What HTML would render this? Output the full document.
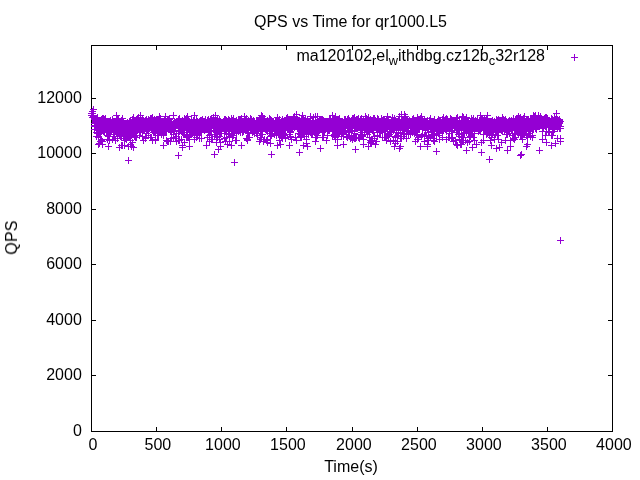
<!DOCTYPE html>
<html><head><meta charset="utf-8"><title>QPS vs Time for qr1000.L5</title>
<style>
html,body{margin:0;padding:0;background:#fff;width:640px;height:480px;overflow:hidden}
svg{display:block;position:absolute;left:0;top:0}
text{font-family:"Liberation Sans",sans-serif;font-size:16px;fill:#000}
#tx{opacity:0.999}
.sub{font-size:12.8px}
</style></head><body>
<svg width="640" height="480" viewBox="0 0 640 480">
<rect width="640" height="480" fill="#fff"/>
<g shape-rendering="crispEdges" fill="none" stroke="#000" stroke-width="1">
<path d="M91.5 45.5H612.5V431.5H91.5Z"/>
<path d="M91.5 431v-4M91.5 46v4M156.5 431v-4M156.5 46v4M221.5 431v-4M221.5 46v4M286.5 431v-4M286.5 46v4M352.5 431v-4M352.5 46v4M417.5 431v-4M417.5 46v4M482.5 431v-4M482.5 46v4M547.5 431v-4M547.5 46v4M612.5 431v-4M612.5 46v4M91 431.5h5M613 431.5h-5M91 375.5h5M613 375.5h-5M91 320.5h5M613 320.5h-5M91 264.5h5M613 264.5h-5M91 209.5h5M613 209.5h-5M91 153.5h5M613 153.5h-5M91 98.5h5M613 98.5h-5"/>
</g>
<g shape-rendering="crispEdges" fill="none" stroke="#9400d3" stroke-width="1">
<path d="M571 57.5h7M574.5 54v7"/>
<path d="M88 113.5h7M91.5 110v7M88 115.5h7M91.5 112v7M89 111.5h7M92.5 108v7M89 113.5h7M92.5 110v7M89 115.5h7M92.5 112v7M89 117.5h7M92.5 114v7M90 109.5h7M93.5 106v7M90 115.5h7M93.5 112v7M90 116.5h7M93.5 113v7M91 119.5h7M94.5 116v7M91 123.5h7M94.5 120v7M91 125.5h7M94.5 122v7M91 126.5h7M94.5 123v7M91 129.5h7M94.5 126v7M92 118.5h7M95.5 115v7M92 120.5h7M95.5 117v7M92 121.5h7M95.5 118v7M92 122.5h7M95.5 119v7M92 125.5h7M95.5 122v7M92 126.5h7M95.5 123v7M93 118.5h7M96.5 115v7M93 120.5h7M96.5 117v7M93 122.5h7M96.5 119v7M93 123.5h7M96.5 120v7M93 132.5h7M96.5 129v7M93 136.5h7M96.5 133v7M94 117.5h7M97.5 114v7M94 123.5h7M97.5 120v7M94 124.5h7M97.5 121v7M94 125.5h7M97.5 122v7M94 128.5h7M97.5 125v7M94 132.5h7M97.5 129v7M94 133.5h7M97.5 130v7M95 121.5h7M98.5 118v7M95 122.5h7M98.5 119v7M95 124.5h7M98.5 121v7M95 129.5h7M98.5 126v7M95 130.5h7M98.5 127v7M95 137.5h7M98.5 134v7M95 144.5h7M98.5 141v7M96 123.5h7M99.5 120v7M96 124.5h7M99.5 121v7M96 127.5h7M99.5 124v7M96 130.5h7M99.5 127v7M96 132.5h7M99.5 129v7M96 143.5h7M99.5 140v7M97 122.5h7M100.5 119v7M97 123.5h7M100.5 120v7M97 125.5h7M100.5 122v7M97 131.5h7M100.5 128v7M97 132.5h7M100.5 129v7M97 133.5h7M100.5 130v7M97 141.5h7M100.5 138v7M98 119.5h7M101.5 116v7M98 120.5h7M101.5 117v7M98 123.5h7M101.5 120v7M98 124.5h7M101.5 121v7M98 126.5h7M101.5 123v7M98 131.5h7M101.5 128v7M98 139.5h7M101.5 136v7M98 140.5h7M101.5 137v7M99 118.5h7M102.5 115v7M99 122.5h7M102.5 119v7M99 126.5h7M102.5 123v7M99 127.5h7M102.5 124v7M99 128.5h7M102.5 125v7M99 130.5h7M102.5 127v7M99 141.5h7M102.5 138v7M99 144.5h7M102.5 141v7M100 118.5h7M103.5 115v7M100 120.5h7M103.5 117v7M100 126.5h7M103.5 123v7M100 127.5h7M103.5 124v7M100 128.5h7M103.5 125v7M100 131.5h7M103.5 128v7M101 119.5h7M104.5 116v7M101 120.5h7M104.5 117v7M101 123.5h7M104.5 120v7M101 126.5h7M104.5 123v7M101 130.5h7M104.5 127v7M101 131.5h7M104.5 128v7M102 118.5h7M105.5 115v7M102 119.5h7M105.5 116v7M102 122.5h7M105.5 119v7M102 123.5h7M105.5 120v7M102 124.5h7M105.5 121v7M102 127.5h7M105.5 124v7M103 121.5h7M106.5 118v7M103 122.5h7M106.5 119v7M103 123.5h7M106.5 120v7M103 125.5h7M106.5 122v7M103 132.5h7M106.5 129v7M104 124.5h7M107.5 121v7M104 125.5h7M107.5 122v7M104 127.5h7M107.5 124v7M104 128.5h7M107.5 125v7M104 130.5h7M107.5 127v7M104 135.5h7M107.5 132v7M104 139.5h7M107.5 136v7M105 123.5h7M108.5 120v7M105 126.5h7M108.5 123v7M105 129.5h7M108.5 126v7M105 130.5h7M108.5 127v7M105 131.5h7M108.5 128v7M105 136.5h7M108.5 133v7M105 146.5h7M108.5 143v7M106 121.5h7M109.5 118v7M106 122.5h7M109.5 119v7M106 124.5h7M109.5 121v7M106 125.5h7M109.5 122v7M106 130.5h7M109.5 127v7M106 132.5h7M109.5 129v7M106 140.5h7M109.5 137v7M107 120.5h7M110.5 117v7M107 123.5h7M110.5 120v7M107 124.5h7M110.5 121v7M107 125.5h7M110.5 122v7M107 126.5h7M110.5 123v7M107 130.5h7M110.5 127v7M108 123.5h7M111.5 120v7M108 124.5h7M111.5 121v7M108 125.5h7M111.5 122v7M108 126.5h7M111.5 123v7M108 129.5h7M111.5 126v7M108 130.5h7M111.5 127v7M108 131.5h7M111.5 128v7M109 119.5h7M112.5 116v7M109 120.5h7M112.5 117v7M109 121.5h7M112.5 118v7M109 126.5h7M112.5 123v7M109 127.5h7M112.5 124v7M109 139.5h7M112.5 136v7M110 121.5h7M113.5 118v7M110 128.5h7M113.5 125v7M110 132.5h7M113.5 129v7M110 134.5h7M113.5 131v7M110 136.5h7M113.5 133v7M111 121.5h7M114.5 118v7M111 123.5h7M114.5 120v7M111 124.5h7M114.5 121v7M111 125.5h7M114.5 122v7M111 136.5h7M114.5 133v7M112 122.5h7M115.5 119v7M112 123.5h7M115.5 120v7M112 124.5h7M115.5 121v7M112 125.5h7M115.5 122v7M112 131.5h7M115.5 128v7M112 140.5h7M115.5 137v7M113 115.5h7M116.5 112v7M113 122.5h7M116.5 119v7M113 123.5h7M116.5 120v7M113 125.5h7M116.5 122v7M113 128.5h7M116.5 125v7M113 133.5h7M116.5 130v7M114 118.5h7M117.5 115v7M114 122.5h7M117.5 119v7M114 123.5h7M117.5 120v7M114 125.5h7M117.5 122v7M114 128.5h7M117.5 125v7M114 129.5h7M117.5 126v7M114 130.5h7M117.5 127v7M114 138.5h7M117.5 135v7M115 119.5h7M118.5 116v7M115 122.5h7M118.5 119v7M115 123.5h7M118.5 120v7M115 125.5h7M118.5 122v7M115 131.5h7M118.5 128v7M116 121.5h7M119.5 118v7M116 124.5h7M119.5 121v7M116 125.5h7M119.5 122v7M116 127.5h7M119.5 124v7M116 134.5h7M119.5 131v7M116 147.5h7M119.5 144v7M117 122.5h7M120.5 119v7M117 124.5h7M120.5 121v7M117 126.5h7M120.5 123v7M117 129.5h7M120.5 126v7M117 132.5h7M120.5 129v7M117 135.5h7M120.5 132v7M117 136.5h7M120.5 133v7M118 120.5h7M121.5 117v7M118 122.5h7M121.5 119v7M118 123.5h7M121.5 120v7M118 124.5h7M121.5 121v7M118 125.5h7M121.5 122v7M118 131.5h7M121.5 128v7M118 136.5h7M121.5 133v7M118 145.5h7M121.5 142v7M119 118.5h7M122.5 115v7M119 122.5h7M122.5 119v7M119 125.5h7M122.5 122v7M119 127.5h7M122.5 124v7M119 130.5h7M122.5 127v7M119 133.5h7M122.5 130v7M119 145.5h7M122.5 142v7M120 122.5h7M123.5 119v7M120 123.5h7M123.5 120v7M120 124.5h7M123.5 121v7M120 125.5h7M123.5 122v7M120 128.5h7M123.5 125v7M120 131.5h7M123.5 128v7M121 123.5h7M124.5 120v7M121 125.5h7M124.5 122v7M121 130.5h7M124.5 127v7M121 132.5h7M124.5 129v7M121 140.5h7M124.5 137v7M121 145.5h7M124.5 142v7M122 123.5h7M125.5 120v7M122 124.5h7M125.5 121v7M122 125.5h7M125.5 122v7M122 131.5h7M125.5 128v7M122 132.5h7M125.5 129v7M122 138.5h7M125.5 135v7M123 123.5h7M126.5 120v7M123 126.5h7M126.5 123v7M123 128.5h7M126.5 125v7M123 131.5h7M126.5 128v7M123 137.5h7M126.5 134v7M123 138.5h7M126.5 135v7M123 139.5h7M126.5 136v7M124 122.5h7M127.5 119v7M124 123.5h7M127.5 120v7M124 126.5h7M127.5 123v7M124 128.5h7M127.5 125v7M124 131.5h7M127.5 128v7M124 133.5h7M127.5 130v7M125 123.5h7M128.5 120v7M125 124.5h7M128.5 121v7M125 125.5h7M128.5 122v7M125 126.5h7M128.5 123v7M125 134.5h7M128.5 131v7M125 146.5h7M128.5 143v7M125 160.5h7M128.5 157v7M126 121.5h7M129.5 118v7M126 122.5h7M129.5 119v7M126 125.5h7M129.5 122v7M126 126.5h7M129.5 123v7M126 130.5h7M129.5 127v7M126 132.5h7M129.5 129v7M126 135.5h7M129.5 132v7M127 120.5h7M130.5 117v7M127 127.5h7M130.5 124v7M127 130.5h7M130.5 127v7M127 134.5h7M130.5 131v7M127 135.5h7M130.5 132v7M127 140.5h7M130.5 137v7M127 144.5h7M130.5 141v7M128 123.5h7M131.5 120v7M128 124.5h7M131.5 121v7M128 125.5h7M131.5 122v7M128 126.5h7M131.5 123v7M128 131.5h7M131.5 128v7M128 135.5h7M131.5 132v7M128 146.5h7M131.5 143v7M129 119.5h7M132.5 116v7M129 123.5h7M132.5 120v7M129 124.5h7M132.5 121v7M129 126.5h7M132.5 123v7M129 127.5h7M132.5 124v7M129 132.5h7M132.5 129v7M129 134.5h7M132.5 131v7M129 142.5h7M132.5 139v7M130 117.5h7M133.5 114v7M130 121.5h7M133.5 118v7M130 125.5h7M133.5 122v7M130 126.5h7M133.5 123v7M130 127.5h7M133.5 124v7M130 131.5h7M133.5 128v7M130 147.5h7M133.5 144v7M131 123.5h7M134.5 120v7M131 124.5h7M134.5 121v7M131 125.5h7M134.5 122v7M131 127.5h7M134.5 124v7M131 130.5h7M134.5 127v7M131 136.5h7M134.5 133v7M132 121.5h7M135.5 118v7M132 123.5h7M135.5 120v7M132 124.5h7M135.5 121v7M132 126.5h7M135.5 123v7M132 130.5h7M135.5 127v7M132 137.5h7M135.5 134v7M133 119.5h7M136.5 116v7M133 122.5h7M136.5 119v7M133 124.5h7M136.5 121v7M133 126.5h7M136.5 123v7M133 128.5h7M136.5 125v7M133 131.5h7M136.5 128v7M133 137.5h7M136.5 134v7M134 118.5h7M137.5 115v7M134 121.5h7M137.5 118v7M134 122.5h7M137.5 119v7M134 123.5h7M137.5 120v7M134 125.5h7M137.5 122v7M134 128.5h7M137.5 125v7M134 130.5h7M137.5 127v7M135 117.5h7M138.5 114v7M135 121.5h7M138.5 118v7M135 122.5h7M138.5 119v7M135 125.5h7M138.5 122v7M135 128.5h7M138.5 125v7M135 129.5h7M138.5 126v7M136 122.5h7M139.5 119v7M136 123.5h7M139.5 120v7M136 124.5h7M139.5 121v7M136 131.5h7M139.5 128v7M136 132.5h7M139.5 129v7M136 135.5h7M139.5 132v7M137 115.5h7M140.5 112v7M137 118.5h7M140.5 115v7M137 125.5h7M140.5 122v7M137 126.5h7M140.5 123v7M137 128.5h7M140.5 125v7M137 132.5h7M140.5 129v7M138 123.5h7M141.5 120v7M138 124.5h7M141.5 121v7M138 125.5h7M141.5 122v7M138 126.5h7M141.5 123v7M138 127.5h7M141.5 124v7M138 129.5h7M141.5 126v7M139 118.5h7M142.5 115v7M139 119.5h7M142.5 116v7M139 123.5h7M142.5 120v7M139 124.5h7M142.5 121v7M139 125.5h7M142.5 122v7M139 127.5h7M142.5 124v7M139 128.5h7M142.5 125v7M139 136.5h7M142.5 133v7M140 120.5h7M143.5 117v7M140 123.5h7M143.5 120v7M140 125.5h7M143.5 122v7M140 127.5h7M143.5 124v7M140 140.5h7M143.5 137v7M141 123.5h7M144.5 120v7M141 124.5h7M144.5 121v7M141 130.5h7M144.5 127v7M142 120.5h7M145.5 117v7M142 123.5h7M145.5 120v7M142 124.5h7M145.5 121v7M142 125.5h7M145.5 122v7M142 126.5h7M145.5 123v7M142 127.5h7M145.5 124v7M142 137.5h7M145.5 134v7M142 138.5h7M145.5 135v7M143 119.5h7M146.5 116v7M143 123.5h7M146.5 120v7M143 124.5h7M146.5 121v7M143 125.5h7M146.5 122v7M143 126.5h7M146.5 123v7M143 131.5h7M146.5 128v7M143 133.5h7M146.5 130v7M144 121.5h7M147.5 118v7M144 123.5h7M147.5 120v7M144 125.5h7M147.5 122v7M144 126.5h7M147.5 123v7M144 128.5h7M147.5 125v7M144 130.5h7M147.5 127v7M145 119.5h7M148.5 116v7M145 121.5h7M148.5 118v7M145 124.5h7M148.5 121v7M145 125.5h7M148.5 122v7M145 126.5h7M148.5 123v7M145 135.5h7M148.5 132v7M146 122.5h7M149.5 119v7M146 123.5h7M149.5 120v7M146 124.5h7M149.5 121v7M146 125.5h7M149.5 122v7M146 126.5h7M149.5 123v7M147 118.5h7M150.5 115v7M147 120.5h7M150.5 117v7M147 123.5h7M150.5 120v7M147 124.5h7M150.5 121v7M147 127.5h7M150.5 124v7M147 137.5h7M150.5 134v7M148 118.5h7M151.5 115v7M148 120.5h7M151.5 117v7M148 121.5h7M151.5 118v7M148 122.5h7M151.5 119v7M148 128.5h7M151.5 125v7M148 137.5h7M151.5 134v7M149 117.5h7M152.5 114v7M149 118.5h7M152.5 115v7M149 119.5h7M152.5 116v7M149 123.5h7M152.5 120v7M149 124.5h7M152.5 121v7M149 127.5h7M152.5 124v7M149 129.5h7M152.5 126v7M149 140.5h7M152.5 137v7M150 122.5h7M153.5 119v7M150 124.5h7M153.5 121v7M150 125.5h7M153.5 122v7M150 128.5h7M153.5 125v7M150 129.5h7M153.5 126v7M150 132.5h7M153.5 129v7M151 119.5h7M154.5 116v7M151 120.5h7M154.5 117v7M151 123.5h7M154.5 120v7M151 124.5h7M154.5 121v7M151 126.5h7M154.5 123v7M151 131.5h7M154.5 128v7M151 132.5h7M154.5 129v7M152 121.5h7M155.5 118v7M152 127.5h7M155.5 124v7M152 128.5h7M155.5 125v7M152 131.5h7M155.5 128v7M152 133.5h7M155.5 130v7M152 139.5h7M155.5 136v7M152 140.5h7M155.5 137v7M153 120.5h7M156.5 117v7M153 121.5h7M156.5 118v7M153 122.5h7M156.5 119v7M153 123.5h7M156.5 120v7M153 125.5h7M156.5 122v7M153 128.5h7M156.5 125v7M154 120.5h7M157.5 117v7M154 122.5h7M157.5 119v7M154 123.5h7M157.5 120v7M154 124.5h7M157.5 121v7M154 130.5h7M157.5 127v7M154 133.5h7M157.5 130v7M154 135.5h7M157.5 132v7M155 120.5h7M158.5 117v7M155 123.5h7M158.5 120v7M155 124.5h7M158.5 121v7M155 125.5h7M158.5 122v7M155 126.5h7M158.5 123v7M155 132.5h7M158.5 129v7M155 135.5h7M158.5 132v7M156 116.5h7M159.5 113v7M156 120.5h7M159.5 117v7M156 121.5h7M159.5 118v7M156 124.5h7M159.5 121v7M157 118.5h7M160.5 115v7M157 120.5h7M160.5 117v7M157 121.5h7M160.5 118v7M157 125.5h7M160.5 122v7M157 127.5h7M160.5 124v7M158 121.5h7M161.5 118v7M158 122.5h7M161.5 119v7M158 123.5h7M161.5 120v7M158 124.5h7M161.5 121v7M158 125.5h7M161.5 122v7M158 130.5h7M161.5 127v7M158 134.5h7M161.5 131v7M159 124.5h7M162.5 121v7M159 127.5h7M162.5 124v7M159 128.5h7M162.5 125v7M159 129.5h7M162.5 126v7M159 130.5h7M162.5 127v7M159 131.5h7M162.5 128v7M160 125.5h7M163.5 122v7M160 126.5h7M163.5 123v7M160 132.5h7M163.5 129v7M160 133.5h7M163.5 130v7M160 134.5h7M163.5 131v7M160 135.5h7M163.5 132v7M160 145.5h7M163.5 142v7M161 119.5h7M164.5 116v7M161 122.5h7M164.5 119v7M161 123.5h7M164.5 120v7M161 126.5h7M164.5 123v7M161 127.5h7M164.5 124v7M162 116.5h7M165.5 113v7M162 122.5h7M165.5 119v7M162 123.5h7M165.5 120v7M162 124.5h7M165.5 121v7M162 127.5h7M165.5 124v7M162 129.5h7M165.5 126v7M163 121.5h7M166.5 118v7M163 122.5h7M166.5 119v7M163 124.5h7M166.5 121v7M163 125.5h7M166.5 122v7M163 126.5h7M166.5 123v7M163 128.5h7M166.5 125v7M163 140.5h7M166.5 137v7M164 120.5h7M167.5 117v7M164 122.5h7M167.5 119v7M164 124.5h7M167.5 121v7M164 125.5h7M167.5 122v7M164 127.5h7M167.5 124v7M164 141.5h7M167.5 138v7M165 119.5h7M168.5 116v7M165 122.5h7M168.5 119v7M165 124.5h7M168.5 121v7M165 125.5h7M168.5 122v7M165 129.5h7M168.5 126v7M165 141.5h7M168.5 138v7M166 118.5h7M169.5 115v7M166 119.5h7M169.5 116v7M166 121.5h7M169.5 118v7M166 122.5h7M169.5 119v7M166 125.5h7M169.5 122v7M166 128.5h7M169.5 125v7M166 129.5h7M169.5 126v7M167 123.5h7M170.5 120v7M167 124.5h7M170.5 121v7M167 127.5h7M170.5 124v7M167 128.5h7M170.5 125v7M167 130.5h7M170.5 127v7M167 131.5h7M170.5 128v7M167 141.5h7M170.5 138v7M168 121.5h7M171.5 118v7M168 122.5h7M171.5 119v7M168 123.5h7M171.5 120v7M168 124.5h7M171.5 121v7M168 125.5h7M171.5 122v7M168 126.5h7M171.5 123v7M168 130.5h7M171.5 127v7M168 138.5h7M171.5 135v7M169 124.5h7M172.5 121v7M169 125.5h7M172.5 122v7M169 126.5h7M172.5 123v7M169 129.5h7M172.5 126v7M170 115.5h7M173.5 112v7M170 123.5h7M173.5 120v7M170 125.5h7M173.5 122v7M170 131.5h7M173.5 128v7M170 134.5h7M173.5 131v7M170 137.5h7M173.5 134v7M171 121.5h7M174.5 118v7M171 123.5h7M174.5 120v7M171 124.5h7M174.5 121v7M171 125.5h7M174.5 122v7M171 126.5h7M174.5 123v7M171 131.5h7M174.5 128v7M172 122.5h7M175.5 119v7M172 123.5h7M175.5 120v7M172 125.5h7M175.5 122v7M172 127.5h7M175.5 124v7M172 138.5h7M175.5 135v7M173 121.5h7M176.5 118v7M173 123.5h7M176.5 120v7M173 125.5h7M176.5 122v7M173 133.5h7M176.5 130v7M173 136.5h7M176.5 133v7M173 141.5h7M176.5 138v7M174 121.5h7M177.5 118v7M174 122.5h7M177.5 119v7M174 124.5h7M177.5 121v7M174 125.5h7M177.5 122v7M175 119.5h7M178.5 116v7M175 124.5h7M178.5 121v7M175 126.5h7M178.5 123v7M175 133.5h7M178.5 130v7M175 140.5h7M178.5 137v7M175 155.5h7M178.5 152v7M176 118.5h7M179.5 115v7M176 122.5h7M179.5 119v7M176 123.5h7M179.5 120v7M176 126.5h7M179.5 123v7M176 127.5h7M179.5 124v7M176 131.5h7M179.5 128v7M176 140.5h7M179.5 137v7M177 121.5h7M180.5 118v7M177 122.5h7M180.5 119v7M177 123.5h7M180.5 120v7M177 124.5h7M180.5 121v7M177 125.5h7M180.5 122v7M177 127.5h7M180.5 124v7M177 130.5h7M180.5 127v7M178 121.5h7M181.5 118v7M178 123.5h7M181.5 120v7M178 124.5h7M181.5 121v7M178 126.5h7M181.5 123v7M178 139.5h7M181.5 136v7M179 120.5h7M182.5 117v7M179 121.5h7M182.5 118v7M179 124.5h7M182.5 121v7M179 125.5h7M182.5 122v7M179 130.5h7M182.5 127v7M179 132.5h7M182.5 129v7M179 145.5h7M182.5 142v7M179 147.5h7M182.5 144v7M180 121.5h7M183.5 118v7M180 122.5h7M183.5 119v7M180 123.5h7M183.5 120v7M180 125.5h7M183.5 122v7M180 126.5h7M183.5 123v7M180 130.5h7M183.5 127v7M181 118.5h7M184.5 115v7M181 121.5h7M184.5 118v7M181 127.5h7M184.5 124v7M181 128.5h7M184.5 125v7M181 134.5h7M184.5 131v7M181 142.5h7M184.5 139v7M182 119.5h7M185.5 116v7M182 121.5h7M185.5 118v7M182 122.5h7M185.5 119v7M182 123.5h7M185.5 120v7M182 124.5h7M185.5 121v7M182 126.5h7M185.5 123v7M183 118.5h7M186.5 115v7M183 122.5h7M186.5 119v7M183 123.5h7M186.5 120v7M183 124.5h7M186.5 121v7M183 129.5h7M186.5 126v7M183 135.5h7M186.5 132v7M183 136.5h7M186.5 133v7M183 137.5h7M186.5 134v7M184 116.5h7M187.5 113v7M184 120.5h7M187.5 117v7M184 121.5h7M187.5 118v7M184 122.5h7M187.5 119v7M184 130.5h7M187.5 127v7M184 137.5h7M187.5 134v7M185 120.5h7M188.5 117v7M185 121.5h7M188.5 118v7M185 124.5h7M188.5 121v7M185 125.5h7M188.5 122v7M185 137.5h7M188.5 134v7M186 122.5h7M189.5 119v7M186 124.5h7M189.5 121v7M186 125.5h7M189.5 122v7M186 127.5h7M189.5 124v7M186 136.5h7M189.5 133v7M186 139.5h7M189.5 136v7M186 146.5h7M189.5 143v7M187 123.5h7M190.5 120v7M187 124.5h7M190.5 121v7M187 125.5h7M190.5 122v7M187 127.5h7M190.5 124v7M187 130.5h7M190.5 127v7M187 131.5h7M190.5 128v7M187 132.5h7M190.5 129v7M188 119.5h7M191.5 116v7M188 123.5h7M191.5 120v7M188 124.5h7M191.5 121v7M188 125.5h7M191.5 122v7M188 126.5h7M191.5 123v7M188 127.5h7M191.5 124v7M188 130.5h7M191.5 127v7M189 122.5h7M192.5 119v7M189 123.5h7M192.5 120v7M189 126.5h7M192.5 123v7M189 127.5h7M192.5 124v7M189 131.5h7M192.5 128v7M190 120.5h7M193.5 117v7M190 121.5h7M193.5 118v7M190 122.5h7M193.5 119v7M190 125.5h7M193.5 122v7M190 126.5h7M193.5 123v7M190 128.5h7M193.5 125v7M190 131.5h7M193.5 128v7M191 115.5h7M194.5 112v7M191 122.5h7M194.5 119v7M191 124.5h7M194.5 121v7M191 130.5h7M194.5 127v7M191 132.5h7M194.5 129v7M191 134.5h7M194.5 131v7M191 135.5h7M194.5 132v7M191 139.5h7M194.5 136v7M192 122.5h7M195.5 119v7M192 123.5h7M195.5 120v7M192 124.5h7M195.5 121v7M192 125.5h7M195.5 122v7M192 127.5h7M195.5 124v7M192 132.5h7M195.5 129v7M193 119.5h7M196.5 116v7M193 121.5h7M196.5 118v7M193 123.5h7M196.5 120v7M193 125.5h7M196.5 122v7M193 132.5h7M196.5 129v7M193 137.5h7M196.5 134v7M194 121.5h7M197.5 118v7M194 122.5h7M197.5 119v7M194 123.5h7M197.5 120v7M194 124.5h7M197.5 121v7M194 125.5h7M197.5 122v7M194 127.5h7M197.5 124v7M194 135.5h7M197.5 132v7M195 122.5h7M198.5 119v7M195 124.5h7M198.5 121v7M195 130.5h7M198.5 127v7M195 131.5h7M198.5 128v7M196 121.5h7M199.5 118v7M196 124.5h7M199.5 121v7M196 126.5h7M199.5 123v7M196 130.5h7M199.5 127v7M196 132.5h7M199.5 129v7M196 138.5h7M199.5 135v7M197 120.5h7M200.5 117v7M197 121.5h7M200.5 118v7M197 122.5h7M200.5 119v7M197 123.5h7M200.5 120v7M197 128.5h7M200.5 125v7M197 131.5h7M200.5 128v7M198 120.5h7M201.5 117v7M198 122.5h7M201.5 119v7M198 124.5h7M201.5 121v7M198 125.5h7M201.5 122v7M198 126.5h7M201.5 123v7M198 132.5h7M201.5 129v7M198 138.5h7M201.5 135v7M199 119.5h7M202.5 116v7M199 120.5h7M202.5 117v7M199 123.5h7M202.5 120v7M199 124.5h7M202.5 121v7M199 125.5h7M202.5 122v7M199 127.5h7M202.5 124v7M200 121.5h7M203.5 118v7M200 123.5h7M203.5 120v7M200 124.5h7M203.5 121v7M200 125.5h7M203.5 122v7M200 126.5h7M203.5 123v7M201 121.5h7M204.5 118v7M201 123.5h7M204.5 120v7M201 124.5h7M204.5 121v7M201 125.5h7M204.5 122v7M201 126.5h7M204.5 123v7M201 127.5h7M204.5 124v7M201 130.5h7M204.5 127v7M202 119.5h7M205.5 116v7M202 122.5h7M205.5 119v7M202 123.5h7M205.5 120v7M202 124.5h7M205.5 121v7M202 125.5h7M205.5 122v7M202 126.5h7M205.5 123v7M203 122.5h7M206.5 119v7M203 124.5h7M206.5 121v7M203 125.5h7M206.5 122v7M203 127.5h7M206.5 124v7M203 145.5h7M206.5 142v7M204 120.5h7M207.5 117v7M204 121.5h7M207.5 118v7M204 123.5h7M207.5 120v7M204 125.5h7M207.5 122v7M204 126.5h7M207.5 123v7M204 137.5h7M207.5 134v7M205 119.5h7M208.5 116v7M205 120.5h7M208.5 117v7M205 121.5h7M208.5 118v7M205 125.5h7M208.5 122v7M205 127.5h7M208.5 124v7M205 131.5h7M208.5 128v7M205 132.5h7M208.5 129v7M206 122.5h7M209.5 119v7M206 123.5h7M209.5 120v7M206 124.5h7M209.5 121v7M206 127.5h7M209.5 124v7M206 135.5h7M209.5 132v7M206 137.5h7M209.5 134v7M206 141.5h7M209.5 138v7M207 119.5h7M210.5 116v7M207 120.5h7M210.5 117v7M207 121.5h7M210.5 118v7M207 123.5h7M210.5 120v7M207 124.5h7M210.5 121v7M207 128.5h7M210.5 125v7M207 131.5h7M210.5 128v7M208 118.5h7M211.5 115v7M208 120.5h7M211.5 117v7M208 123.5h7M211.5 120v7M208 125.5h7M211.5 122v7M208 126.5h7M211.5 123v7M208 131.5h7M211.5 128v7M208 139.5h7M211.5 136v7M209 122.5h7M212.5 119v7M209 123.5h7M212.5 120v7M209 124.5h7M212.5 121v7M209 125.5h7M212.5 122v7M209 139.5h7M212.5 136v7M210 117.5h7M213.5 114v7M210 121.5h7M213.5 118v7M210 122.5h7M213.5 119v7M210 123.5h7M213.5 120v7M210 125.5h7M213.5 122v7M210 126.5h7M213.5 123v7M210 127.5h7M213.5 124v7M211 121.5h7M214.5 118v7M211 124.5h7M214.5 121v7M211 125.5h7M214.5 122v7M211 127.5h7M214.5 124v7M211 136.5h7M214.5 133v7M211 154.5h7M214.5 151v7M212 115.5h7M215.5 112v7M212 122.5h7M215.5 119v7M212 123.5h7M215.5 120v7M212 126.5h7M215.5 123v7M212 128.5h7M215.5 125v7M212 130.5h7M215.5 127v7M212 134.5h7M215.5 131v7M213 120.5h7M216.5 117v7M213 123.5h7M216.5 120v7M213 124.5h7M216.5 121v7M213 125.5h7M216.5 122v7M213 131.5h7M216.5 128v7M213 132.5h7M216.5 129v7M213 136.5h7M216.5 133v7M213 142.5h7M216.5 139v7M214 118.5h7M217.5 115v7M214 121.5h7M217.5 118v7M214 123.5h7M217.5 120v7M214 127.5h7M217.5 124v7M214 130.5h7M217.5 127v7M214 132.5h7M217.5 129v7M214 137.5h7M217.5 134v7M215 122.5h7M218.5 119v7M215 123.5h7M218.5 120v7M215 125.5h7M218.5 122v7M215 126.5h7M218.5 123v7M215 128.5h7M218.5 125v7M215 129.5h7M218.5 126v7M215 149.5h7M218.5 146v7M216 119.5h7M219.5 116v7M216 126.5h7M219.5 123v7M216 127.5h7M219.5 124v7M216 129.5h7M219.5 126v7M216 130.5h7M219.5 127v7M216 131.5h7M219.5 128v7M216 136.5h7M219.5 133v7M216 139.5h7M219.5 136v7M217 123.5h7M220.5 120v7M217 126.5h7M220.5 123v7M217 127.5h7M220.5 124v7M217 133.5h7M220.5 130v7M217 142.5h7M220.5 139v7M217 146.5h7M220.5 143v7M218 123.5h7M221.5 120v7M218 124.5h7M221.5 121v7M218 125.5h7M221.5 122v7M218 126.5h7M221.5 123v7M218 128.5h7M221.5 125v7M218 129.5h7M221.5 126v7M218 133.5h7M221.5 130v7M219 123.5h7M222.5 120v7M219 124.5h7M222.5 121v7M219 125.5h7M222.5 122v7M219 127.5h7M222.5 124v7M219 128.5h7M222.5 125v7M220 121.5h7M223.5 118v7M220 122.5h7M223.5 119v7M220 123.5h7M223.5 120v7M220 124.5h7M223.5 121v7M220 126.5h7M223.5 123v7M221 119.5h7M224.5 116v7M221 120.5h7M224.5 117v7M221 123.5h7M224.5 120v7M221 126.5h7M224.5 123v7M221 133.5h7M224.5 130v7M221 138.5h7M224.5 135v7M222 119.5h7M225.5 116v7M222 121.5h7M225.5 118v7M222 124.5h7M225.5 121v7M222 125.5h7M225.5 122v7M222 126.5h7M225.5 123v7M222 130.5h7M225.5 127v7M222 141.5h7M225.5 138v7M223 120.5h7M226.5 117v7M223 123.5h7M226.5 120v7M223 124.5h7M226.5 121v7M223 129.5h7M226.5 126v7M223 130.5h7M226.5 127v7M223 131.5h7M226.5 128v7M223 137.5h7M226.5 134v7M224 121.5h7M227.5 118v7M224 123.5h7M227.5 120v7M224 125.5h7M227.5 122v7M224 126.5h7M227.5 123v7M224 127.5h7M227.5 124v7M224 144.5h7M227.5 141v7M225 119.5h7M228.5 116v7M225 121.5h7M228.5 118v7M225 123.5h7M228.5 120v7M225 124.5h7M228.5 121v7M225 125.5h7M228.5 122v7M225 130.5h7M228.5 127v7M225 134.5h7M228.5 131v7M226 120.5h7M229.5 117v7M226 122.5h7M229.5 119v7M226 123.5h7M229.5 120v7M226 125.5h7M229.5 122v7M226 126.5h7M229.5 123v7M226 133.5h7M229.5 130v7M226 136.5h7M229.5 133v7M226 141.5h7M229.5 138v7M227 121.5h7M230.5 118v7M227 122.5h7M230.5 119v7M227 124.5h7M230.5 121v7M227 126.5h7M230.5 123v7M228 118.5h7M231.5 115v7M228 123.5h7M231.5 120v7M228 125.5h7M231.5 122v7M228 128.5h7M231.5 125v7M228 131.5h7M231.5 128v7M228 145.5h7M231.5 142v7M229 120.5h7M232.5 117v7M229 123.5h7M232.5 120v7M229 124.5h7M232.5 121v7M229 127.5h7M232.5 124v7M229 128.5h7M232.5 125v7M229 129.5h7M232.5 126v7M229 137.5h7M232.5 134v7M230 118.5h7M233.5 115v7M230 122.5h7M233.5 119v7M230 123.5h7M233.5 120v7M230 125.5h7M233.5 122v7M230 126.5h7M233.5 123v7M230 130.5h7M233.5 127v7M230 135.5h7M233.5 132v7M231 121.5h7M234.5 118v7M231 123.5h7M234.5 120v7M231 125.5h7M234.5 122v7M231 126.5h7M234.5 123v7M231 131.5h7M234.5 128v7M231 162.5h7M234.5 159v7M232 121.5h7M235.5 118v7M232 122.5h7M235.5 119v7M232 124.5h7M235.5 121v7M232 126.5h7M235.5 123v7M232 130.5h7M235.5 127v7M232 140.5h7M235.5 137v7M233 120.5h7M236.5 117v7M233 122.5h7M236.5 119v7M233 124.5h7M236.5 121v7M233 126.5h7M236.5 123v7M233 133.5h7M236.5 130v7M233 140.5h7M236.5 137v7M234 123.5h7M237.5 120v7M234 124.5h7M237.5 121v7M234 125.5h7M237.5 122v7M234 128.5h7M237.5 125v7M234 130.5h7M237.5 127v7M235 119.5h7M238.5 116v7M235 121.5h7M238.5 118v7M235 122.5h7M238.5 119v7M235 123.5h7M238.5 120v7M235 124.5h7M238.5 121v7M235 125.5h7M238.5 122v7M235 130.5h7M238.5 127v7M235 131.5h7M238.5 128v7M236 119.5h7M239.5 116v7M236 120.5h7M239.5 117v7M236 123.5h7M239.5 120v7M236 124.5h7M239.5 121v7M236 126.5h7M239.5 123v7M237 119.5h7M240.5 116v7M237 120.5h7M240.5 117v7M237 122.5h7M240.5 119v7M237 124.5h7M240.5 121v7M237 125.5h7M240.5 122v7M237 126.5h7M240.5 123v7M237 132.5h7M240.5 129v7M238 118.5h7M241.5 115v7M238 121.5h7M241.5 118v7M238 122.5h7M241.5 119v7M238 125.5h7M241.5 122v7M238 127.5h7M241.5 124v7M238 145.5h7M241.5 142v7M239 121.5h7M242.5 118v7M239 123.5h7M242.5 120v7M239 124.5h7M242.5 121v7M239 125.5h7M242.5 122v7M239 130.5h7M242.5 127v7M239 132.5h7M242.5 129v7M240 122.5h7M243.5 119v7M240 124.5h7M243.5 121v7M240 125.5h7M243.5 122v7M240 127.5h7M243.5 124v7M240 129.5h7M243.5 126v7M240 130.5h7M243.5 127v7M240 131.5h7M243.5 128v7M241 116.5h7M244.5 113v7M241 119.5h7M244.5 116v7M241 121.5h7M244.5 118v7M241 122.5h7M244.5 119v7M241 125.5h7M244.5 122v7M241 126.5h7M244.5 123v7M241 127.5h7M244.5 124v7M242 119.5h7M245.5 116v7M242 122.5h7M245.5 119v7M242 123.5h7M245.5 120v7M242 125.5h7M245.5 122v7M242 129.5h7M245.5 126v7M242 130.5h7M245.5 127v7M243 118.5h7M246.5 115v7M243 120.5h7M246.5 117v7M243 123.5h7M246.5 120v7M243 124.5h7M246.5 121v7M243 127.5h7M246.5 124v7M243 138.5h7M246.5 135v7M244 124.5h7M247.5 121v7M244 126.5h7M247.5 123v7M244 130.5h7M247.5 127v7M244 132.5h7M247.5 129v7M244 139.5h7M247.5 136v7M244 140.5h7M247.5 137v7M245 120.5h7M248.5 117v7M245 121.5h7M248.5 118v7M245 123.5h7M248.5 120v7M245 126.5h7M248.5 123v7M245 128.5h7M248.5 125v7M245 133.5h7M248.5 130v7M246 121.5h7M249.5 118v7M246 123.5h7M249.5 120v7M246 124.5h7M249.5 121v7M246 125.5h7M249.5 122v7M246 126.5h7M249.5 123v7M246 137.5h7M249.5 134v7M247 118.5h7M250.5 115v7M247 119.5h7M250.5 116v7M247 121.5h7M250.5 118v7M247 123.5h7M250.5 120v7M247 124.5h7M250.5 121v7M247 129.5h7M250.5 126v7M248 119.5h7M251.5 116v7M248 120.5h7M251.5 117v7M248 123.5h7M251.5 120v7M248 124.5h7M251.5 121v7M248 125.5h7M251.5 122v7M248 128.5h7M251.5 125v7M248 130.5h7M251.5 127v7M249 123.5h7M252.5 120v7M249 124.5h7M252.5 121v7M249 125.5h7M252.5 122v7M249 129.5h7M252.5 126v7M249 130.5h7M252.5 127v7M249 132.5h7M252.5 129v7M250 120.5h7M253.5 117v7M250 123.5h7M253.5 120v7M250 124.5h7M253.5 121v7M250 125.5h7M253.5 122v7M250 126.5h7M253.5 123v7M250 131.5h7M253.5 128v7M251 121.5h7M254.5 118v7M251 123.5h7M254.5 120v7M251 124.5h7M254.5 121v7M251 125.5h7M254.5 122v7M251 128.5h7M254.5 125v7M251 130.5h7M254.5 127v7M251 133.5h7M254.5 130v7M252 123.5h7M255.5 120v7M252 124.5h7M255.5 121v7M252 125.5h7M255.5 122v7M252 126.5h7M255.5 123v7M253 120.5h7M256.5 117v7M253 121.5h7M256.5 118v7M253 124.5h7M256.5 121v7M253 125.5h7M256.5 122v7M253 128.5h7M256.5 125v7M253 133.5h7M256.5 130v7M254 120.5h7M257.5 117v7M254 123.5h7M257.5 120v7M254 124.5h7M257.5 121v7M254 125.5h7M257.5 122v7M254 131.5h7M257.5 128v7M254 133.5h7M257.5 130v7M254 135.5h7M257.5 132v7M255 120.5h7M258.5 117v7M255 121.5h7M258.5 118v7M255 122.5h7M258.5 119v7M255 123.5h7M258.5 120v7M255 126.5h7M258.5 123v7M255 130.5h7M258.5 127v7M256 120.5h7M259.5 117v7M256 122.5h7M259.5 119v7M256 124.5h7M259.5 121v7M256 127.5h7M259.5 124v7M256 141.5h7M259.5 138v7M257 120.5h7M260.5 117v7M257 122.5h7M260.5 119v7M257 123.5h7M260.5 120v7M257 124.5h7M260.5 121v7M257 129.5h7M260.5 126v7M257 130.5h7M260.5 127v7M257 139.5h7M260.5 136v7M258 115.5h7M261.5 112v7M258 121.5h7M261.5 118v7M258 123.5h7M261.5 120v7M258 126.5h7M261.5 123v7M258 131.5h7M261.5 128v7M258 137.5h7M261.5 134v7M259 116.5h7M262.5 113v7M259 121.5h7M262.5 118v7M259 123.5h7M262.5 120v7M259 125.5h7M262.5 122v7M259 126.5h7M262.5 123v7M259 134.5h7M262.5 131v7M260 118.5h7M263.5 115v7M260 120.5h7M263.5 117v7M260 122.5h7M263.5 119v7M260 123.5h7M263.5 120v7M260 125.5h7M263.5 122v7M260 126.5h7M263.5 123v7M260 128.5h7M263.5 125v7M260 141.5h7M263.5 138v7M261 119.5h7M264.5 116v7M261 121.5h7M264.5 118v7M261 123.5h7M264.5 120v7M261 125.5h7M264.5 122v7M261 127.5h7M264.5 124v7M261 128.5h7M264.5 125v7M261 139.5h7M264.5 136v7M262 122.5h7M265.5 119v7M262 124.5h7M265.5 121v7M262 125.5h7M265.5 122v7M262 126.5h7M265.5 123v7M262 127.5h7M265.5 124v7M262 129.5h7M265.5 126v7M263 123.5h7M266.5 120v7M263 124.5h7M266.5 121v7M263 125.5h7M266.5 122v7M263 127.5h7M266.5 124v7M263 130.5h7M266.5 127v7M263 140.5h7M266.5 137v7M264 120.5h7M267.5 117v7M264 122.5h7M267.5 119v7M264 123.5h7M267.5 120v7M264 125.5h7M267.5 122v7M264 131.5h7M267.5 128v7M264 139.5h7M267.5 136v7M264 142.5h7M267.5 139v7M265 122.5h7M268.5 119v7M265 123.5h7M268.5 120v7M265 124.5h7M268.5 121v7M265 125.5h7M268.5 122v7M266 118.5h7M269.5 115v7M266 124.5h7M269.5 121v7M266 125.5h7M269.5 122v7M266 126.5h7M269.5 123v7M266 133.5h7M269.5 130v7M267 119.5h7M270.5 116v7M267 124.5h7M270.5 121v7M267 125.5h7M270.5 122v7M267 126.5h7M270.5 123v7M267 128.5h7M270.5 125v7M267 133.5h7M270.5 130v7M267 136.5h7M270.5 133v7M267 143.5h7M270.5 140v7M268 120.5h7M271.5 117v7M268 123.5h7M271.5 120v7M268 125.5h7M271.5 122v7M268 126.5h7M271.5 123v7M268 129.5h7M271.5 126v7M268 135.5h7M271.5 132v7M268 154.5h7M271.5 151v7M269 123.5h7M272.5 120v7M269 125.5h7M272.5 122v7M269 127.5h7M272.5 124v7M269 130.5h7M272.5 127v7M270 121.5h7M273.5 118v7M270 123.5h7M273.5 120v7M270 127.5h7M273.5 124v7M271 124.5h7M274.5 121v7M271 125.5h7M274.5 122v7M271 127.5h7M274.5 124v7M271 134.5h7M274.5 131v7M272 121.5h7M275.5 118v7M272 123.5h7M275.5 120v7M272 124.5h7M275.5 121v7M272 125.5h7M275.5 122v7M272 131.5h7M275.5 128v7M273 121.5h7M276.5 118v7M273 123.5h7M276.5 120v7M273 124.5h7M276.5 121v7M273 125.5h7M276.5 122v7M273 126.5h7M276.5 123v7M273 127.5h7M276.5 124v7M273 131.5h7M276.5 128v7M273 135.5h7M276.5 132v7M274 117.5h7M277.5 114v7M274 124.5h7M277.5 121v7M274 125.5h7M277.5 122v7M274 126.5h7M277.5 123v7M274 128.5h7M277.5 125v7M274 131.5h7M277.5 128v7M274 145.5h7M277.5 142v7M275 121.5h7M278.5 118v7M275 122.5h7M278.5 119v7M275 124.5h7M278.5 121v7M275 125.5h7M278.5 122v7M275 126.5h7M278.5 123v7M275 127.5h7M278.5 124v7M275 130.5h7M278.5 127v7M275 131.5h7M278.5 128v7M276 119.5h7M279.5 116v7M276 120.5h7M279.5 117v7M276 124.5h7M279.5 121v7M276 126.5h7M279.5 123v7M276 127.5h7M279.5 124v7M276 130.5h7M279.5 127v7M276 133.5h7M279.5 130v7M276 140.5h7M279.5 137v7M277 123.5h7M280.5 120v7M277 124.5h7M280.5 121v7M277 125.5h7M280.5 122v7M277 126.5h7M280.5 123v7M277 135.5h7M280.5 132v7M277 144.5h7M280.5 141v7M278 121.5h7M281.5 118v7M278 125.5h7M281.5 122v7M278 131.5h7M281.5 128v7M278 134.5h7M281.5 131v7M278 136.5h7M281.5 133v7M278 137.5h7M281.5 134v7M279 119.5h7M282.5 116v7M279 124.5h7M282.5 121v7M279 126.5h7M282.5 123v7M279 128.5h7M282.5 125v7M279 133.5h7M282.5 130v7M279 138.5h7M282.5 135v7M280 122.5h7M283.5 119v7M280 124.5h7M283.5 121v7M280 126.5h7M283.5 123v7M280 130.5h7M283.5 127v7M280 133.5h7M283.5 130v7M281 122.5h7M284.5 119v7M281 123.5h7M284.5 120v7M281 125.5h7M284.5 122v7M281 126.5h7M284.5 123v7M281 127.5h7M284.5 124v7M281 135.5h7M284.5 132v7M282 123.5h7M285.5 120v7M282 125.5h7M285.5 122v7M282 127.5h7M285.5 124v7M282 128.5h7M285.5 125v7M282 129.5h7M285.5 126v7M282 130.5h7M285.5 127v7M282 137.5h7M285.5 134v7M282 138.5h7M285.5 135v7M283 118.5h7M286.5 115v7M283 123.5h7M286.5 120v7M283 125.5h7M286.5 122v7M283 127.5h7M286.5 124v7M284 117.5h7M287.5 114v7M284 120.5h7M287.5 117v7M284 123.5h7M287.5 120v7M284 124.5h7M287.5 121v7M284 125.5h7M287.5 122v7M284 126.5h7M287.5 123v7M284 128.5h7M287.5 125v7M285 119.5h7M288.5 116v7M285 121.5h7M288.5 118v7M285 122.5h7M288.5 119v7M285 123.5h7M288.5 120v7M285 124.5h7M288.5 121v7M285 125.5h7M288.5 122v7M285 127.5h7M288.5 124v7M286 119.5h7M289.5 116v7M286 121.5h7M289.5 118v7M286 124.5h7M289.5 121v7M286 127.5h7M289.5 124v7M286 128.5h7M289.5 125v7M286 134.5h7M289.5 131v7M286 145.5h7M289.5 142v7M287 119.5h7M290.5 116v7M287 120.5h7M290.5 117v7M287 121.5h7M290.5 118v7M287 125.5h7M290.5 122v7M287 126.5h7M290.5 123v7M287 131.5h7M290.5 128v7M287 132.5h7M290.5 129v7M287 136.5h7M290.5 133v7M288 119.5h7M291.5 116v7M288 121.5h7M291.5 118v7M288 123.5h7M291.5 120v7M288 124.5h7M291.5 121v7M288 129.5h7M291.5 126v7M288 139.5h7M291.5 136v7M289 121.5h7M292.5 118v7M289 122.5h7M292.5 119v7M289 125.5h7M292.5 122v7M289 126.5h7M292.5 123v7M289 127.5h7M292.5 124v7M289 128.5h7M292.5 125v7M289 129.5h7M292.5 126v7M290 117.5h7M293.5 114v7M290 120.5h7M293.5 117v7M290 122.5h7M293.5 119v7M290 123.5h7M293.5 120v7M290 124.5h7M293.5 121v7M290 125.5h7M293.5 122v7M291 116.5h7M294.5 113v7M291 118.5h7M294.5 115v7M291 120.5h7M294.5 117v7M291 121.5h7M294.5 118v7M291 123.5h7M294.5 120v7M291 124.5h7M294.5 121v7M291 127.5h7M294.5 124v7M292 124.5h7M295.5 121v7M292 125.5h7M295.5 122v7M292 126.5h7M295.5 123v7M292 137.5h7M295.5 134v7M293 114.5h7M296.5 111v7M293 122.5h7M296.5 119v7M293 124.5h7M296.5 121v7M293 126.5h7M296.5 123v7M293 140.5h7M296.5 137v7M294 119.5h7M297.5 116v7M294 121.5h7M297.5 118v7M294 122.5h7M297.5 119v7M294 123.5h7M297.5 120v7M294 126.5h7M297.5 123v7M294 128.5h7M297.5 125v7M295 120.5h7M298.5 117v7M295 121.5h7M298.5 118v7M295 122.5h7M298.5 119v7M295 126.5h7M298.5 123v7M295 127.5h7M298.5 124v7M295 128.5h7M298.5 125v7M295 133.5h7M298.5 130v7M296 120.5h7M299.5 117v7M296 122.5h7M299.5 119v7M296 125.5h7M299.5 122v7M296 126.5h7M299.5 123v7M296 127.5h7M299.5 124v7M296 129.5h7M299.5 126v7M296 152.5h7M299.5 149v7M297 123.5h7M300.5 120v7M297 124.5h7M300.5 121v7M297 126.5h7M300.5 123v7M297 134.5h7M300.5 131v7M297 136.5h7M300.5 133v7M297 137.5h7M300.5 134v7M298 118.5h7M301.5 115v7M298 124.5h7M301.5 121v7M298 125.5h7M301.5 122v7M298 127.5h7M301.5 124v7M298 130.5h7M301.5 127v7M298 135.5h7M301.5 132v7M298 136.5h7M301.5 133v7M298 137.5h7M301.5 134v7M299 115.5h7M302.5 112v7M299 121.5h7M302.5 118v7M299 123.5h7M302.5 120v7M299 124.5h7M302.5 121v7M299 132.5h7M302.5 129v7M300 119.5h7M303.5 116v7M300 121.5h7M303.5 118v7M300 126.5h7M303.5 123v7M300 127.5h7M303.5 124v7M300 128.5h7M303.5 125v7M300 134.5h7M303.5 131v7M300 145.5h7M303.5 142v7M301 120.5h7M304.5 117v7M301 122.5h7M304.5 119v7M301 125.5h7M304.5 122v7M301 130.5h7M304.5 127v7M301 136.5h7M304.5 133v7M302 118.5h7M305.5 115v7M302 119.5h7M305.5 116v7M302 122.5h7M305.5 119v7M302 124.5h7M305.5 121v7M302 125.5h7M305.5 122v7M302 127.5h7M305.5 124v7M302 130.5h7M305.5 127v7M303 123.5h7M306.5 120v7M303 124.5h7M306.5 121v7M303 125.5h7M306.5 122v7M303 131.5h7M306.5 128v7M303 133.5h7M306.5 130v7M303 139.5h7M306.5 136v7M303 143.5h7M306.5 140v7M304 120.5h7M307.5 117v7M304 122.5h7M307.5 119v7M304 124.5h7M307.5 121v7M304 126.5h7M307.5 123v7M304 127.5h7M307.5 124v7M304 130.5h7M307.5 127v7M304 146.5h7M307.5 143v7M305 122.5h7M308.5 119v7M305 123.5h7M308.5 120v7M305 125.5h7M308.5 122v7M305 126.5h7M308.5 123v7M305 133.5h7M308.5 130v7M305 134.5h7M308.5 131v7M306 121.5h7M309.5 118v7M306 122.5h7M309.5 119v7M306 124.5h7M309.5 121v7M306 126.5h7M309.5 123v7M306 127.5h7M309.5 124v7M306 130.5h7M309.5 127v7M306 131.5h7M309.5 128v7M307 116.5h7M310.5 113v7M307 118.5h7M310.5 115v7M307 121.5h7M310.5 118v7M307 123.5h7M310.5 120v7M307 124.5h7M310.5 121v7M307 125.5h7M310.5 122v7M307 127.5h7M310.5 124v7M307 132.5h7M310.5 129v7M308 123.5h7M311.5 120v7M308 125.5h7M311.5 122v7M308 127.5h7M311.5 124v7M308 129.5h7M311.5 126v7M308 134.5h7M311.5 131v7M309 121.5h7M312.5 118v7M309 123.5h7M312.5 120v7M309 124.5h7M312.5 121v7M309 125.5h7M312.5 122v7M309 131.5h7M312.5 128v7M309 134.5h7M312.5 131v7M310 117.5h7M313.5 114v7M310 122.5h7M313.5 119v7M310 123.5h7M313.5 120v7M310 124.5h7M313.5 121v7M310 125.5h7M313.5 122v7M310 128.5h7M313.5 125v7M310 130.5h7M313.5 127v7M310 131.5h7M313.5 128v7M311 123.5h7M314.5 120v7M311 124.5h7M314.5 121v7M311 125.5h7M314.5 122v7M311 130.5h7M314.5 127v7M311 132.5h7M314.5 129v7M312 116.5h7M315.5 113v7M312 123.5h7M315.5 120v7M312 124.5h7M315.5 121v7M312 127.5h7M315.5 124v7M312 128.5h7M315.5 125v7M312 133.5h7M315.5 130v7M312 141.5h7M315.5 138v7M313 122.5h7M316.5 119v7M313 123.5h7M316.5 120v7M313 126.5h7M316.5 123v7M313 127.5h7M316.5 124v7M313 130.5h7M316.5 127v7M313 133.5h7M316.5 130v7M313 137.5h7M316.5 134v7M314 116.5h7M317.5 113v7M314 121.5h7M317.5 118v7M314 123.5h7M317.5 120v7M314 127.5h7M317.5 124v7M314 128.5h7M317.5 125v7M314 132.5h7M317.5 129v7M314 135.5h7M317.5 132v7M315 121.5h7M318.5 118v7M315 122.5h7M318.5 119v7M315 126.5h7M318.5 123v7M315 127.5h7M318.5 124v7M315 128.5h7M318.5 125v7M315 131.5h7M318.5 128v7M316 120.5h7M319.5 117v7M316 121.5h7M319.5 118v7M316 122.5h7M319.5 119v7M316 123.5h7M319.5 120v7M316 124.5h7M319.5 121v7M316 126.5h7M319.5 123v7M317 120.5h7M320.5 117v7M317 122.5h7M320.5 119v7M317 123.5h7M320.5 120v7M317 126.5h7M320.5 123v7M317 127.5h7M320.5 124v7M317 148.5h7M320.5 145v7M318 119.5h7M321.5 116v7M318 121.5h7M321.5 118v7M318 122.5h7M321.5 119v7M318 124.5h7M321.5 121v7M318 125.5h7M321.5 122v7M318 128.5h7M321.5 125v7M319 119.5h7M322.5 116v7M319 121.5h7M322.5 118v7M319 124.5h7M322.5 121v7M319 126.5h7M322.5 123v7M319 127.5h7M322.5 124v7M319 132.5h7M322.5 129v7M319 137.5h7M322.5 134v7M320 120.5h7M323.5 117v7M320 124.5h7M323.5 121v7M320 126.5h7M323.5 123v7M320 127.5h7M323.5 124v7M320 128.5h7M323.5 125v7M320 131.5h7M323.5 128v7M320 137.5h7M323.5 134v7M321 121.5h7M324.5 118v7M321 124.5h7M324.5 121v7M321 125.5h7M324.5 122v7M321 130.5h7M324.5 127v7M321 131.5h7M324.5 128v7M322 121.5h7M325.5 118v7M322 122.5h7M325.5 119v7M322 123.5h7M325.5 120v7M322 124.5h7M325.5 121v7M322 127.5h7M325.5 124v7M322 128.5h7M325.5 125v7M323 121.5h7M326.5 118v7M323 122.5h7M326.5 119v7M323 124.5h7M326.5 121v7M323 125.5h7M326.5 122v7M323 126.5h7M326.5 123v7M323 127.5h7M326.5 124v7M323 140.5h7M326.5 137v7M324 121.5h7M327.5 118v7M324 122.5h7M327.5 119v7M324 123.5h7M327.5 120v7M324 126.5h7M327.5 123v7M324 130.5h7M327.5 127v7M324 135.5h7M327.5 132v7M325 122.5h7M328.5 119v7M325 123.5h7M328.5 120v7M325 126.5h7M328.5 123v7M325 128.5h7M328.5 125v7M325 130.5h7M328.5 127v7M326 118.5h7M329.5 115v7M326 123.5h7M329.5 120v7M326 124.5h7M329.5 121v7M326 126.5h7M329.5 123v7M326 130.5h7M329.5 127v7M327 119.5h7M330.5 116v7M327 124.5h7M330.5 121v7M327 125.5h7M330.5 122v7M327 126.5h7M330.5 123v7M327 127.5h7M330.5 124v7M328 122.5h7M331.5 119v7M328 123.5h7M331.5 120v7M328 124.5h7M331.5 121v7M328 125.5h7M331.5 122v7M328 126.5h7M331.5 123v7M328 127.5h7M331.5 124v7M329 115.5h7M332.5 112v7M329 121.5h7M332.5 118v7M329 123.5h7M332.5 120v7M329 126.5h7M332.5 123v7M329 129.5h7M332.5 126v7M329 135.5h7M332.5 132v7M330 120.5h7M333.5 117v7M330 122.5h7M333.5 119v7M330 124.5h7M333.5 121v7M330 125.5h7M333.5 122v7M330 131.5h7M333.5 128v7M331 118.5h7M334.5 115v7M331 122.5h7M334.5 119v7M331 123.5h7M334.5 120v7M331 125.5h7M334.5 122v7M331 128.5h7M334.5 125v7M331 134.5h7M334.5 131v7M331 136.5h7M334.5 133v7M332 116.5h7M335.5 113v7M332 122.5h7M335.5 119v7M332 124.5h7M335.5 121v7M332 125.5h7M335.5 122v7M332 126.5h7M335.5 123v7M332 130.5h7M335.5 127v7M332 137.5h7M335.5 134v7M332 139.5h7M335.5 136v7M333 119.5h7M336.5 116v7M333 122.5h7M336.5 119v7M333 125.5h7M336.5 122v7M333 126.5h7M336.5 123v7M333 132.5h7M336.5 129v7M334 120.5h7M337.5 117v7M334 121.5h7M337.5 118v7M334 124.5h7M337.5 121v7M334 127.5h7M337.5 124v7M334 136.5h7M337.5 133v7M334 139.5h7M337.5 136v7M334 145.5h7M337.5 142v7M335 119.5h7M338.5 116v7M335 121.5h7M338.5 118v7M335 122.5h7M338.5 119v7M335 123.5h7M338.5 120v7M335 124.5h7M338.5 121v7M335 125.5h7M338.5 122v7M335 128.5h7M338.5 125v7M335 133.5h7M338.5 130v7M336 118.5h7M339.5 115v7M336 120.5h7M339.5 117v7M336 121.5h7M339.5 118v7M336 124.5h7M339.5 121v7M336 126.5h7M339.5 123v7M336 129.5h7M339.5 126v7M336 133.5h7M339.5 130v7M337 124.5h7M340.5 121v7M337 125.5h7M340.5 122v7M337 126.5h7M340.5 123v7M337 129.5h7M340.5 126v7M337 130.5h7M340.5 127v7M337 131.5h7M340.5 128v7M338 122.5h7M341.5 119v7M338 123.5h7M341.5 120v7M338 124.5h7M341.5 121v7M338 125.5h7M341.5 122v7M338 127.5h7M341.5 124v7M338 129.5h7M341.5 126v7M338 131.5h7M341.5 128v7M338 136.5h7M341.5 133v7M339 121.5h7M342.5 118v7M339 122.5h7M342.5 119v7M339 123.5h7M342.5 120v7M339 126.5h7M342.5 123v7M339 130.5h7M342.5 127v7M339 133.5h7M342.5 130v7M340 123.5h7M343.5 120v7M340 125.5h7M343.5 122v7M340 130.5h7M343.5 127v7M340 134.5h7M343.5 131v7M340 136.5h7M343.5 133v7M340 144.5h7M343.5 141v7M341 119.5h7M344.5 116v7M341 122.5h7M344.5 119v7M341 124.5h7M344.5 121v7M341 125.5h7M344.5 122v7M341 126.5h7M344.5 123v7M341 130.5h7M344.5 127v7M342 119.5h7M345.5 116v7M342 122.5h7M345.5 119v7M342 125.5h7M345.5 122v7M342 131.5h7M345.5 128v7M343 122.5h7M346.5 119v7M343 123.5h7M346.5 120v7M343 124.5h7M346.5 121v7M343 125.5h7M346.5 122v7M343 136.5h7M346.5 133v7M344 119.5h7M347.5 116v7M344 121.5h7M347.5 118v7M344 122.5h7M347.5 119v7M344 123.5h7M347.5 120v7M344 126.5h7M347.5 123v7M344 137.5h7M347.5 134v7M345 118.5h7M348.5 115v7M345 121.5h7M348.5 118v7M345 122.5h7M348.5 119v7M345 124.5h7M348.5 121v7M345 125.5h7M348.5 122v7M345 131.5h7M348.5 128v7M346 120.5h7M349.5 117v7M346 122.5h7M349.5 119v7M346 124.5h7M349.5 121v7M346 125.5h7M349.5 122v7M346 127.5h7M349.5 124v7M346 132.5h7M349.5 129v7M347 121.5h7M350.5 118v7M347 122.5h7M350.5 119v7M347 123.5h7M350.5 120v7M347 124.5h7M350.5 121v7M347 125.5h7M350.5 122v7M347 127.5h7M350.5 124v7M347 138.5h7M350.5 135v7M348 121.5h7M351.5 118v7M348 122.5h7M351.5 119v7M348 126.5h7M351.5 123v7M348 128.5h7M351.5 125v7M348 135.5h7M351.5 132v7M348 137.5h7M351.5 134v7M349 118.5h7M352.5 115v7M349 119.5h7M352.5 116v7M349 121.5h7M352.5 118v7M349 122.5h7M352.5 119v7M349 128.5h7M352.5 125v7M349 130.5h7M352.5 127v7M349 139.5h7M352.5 136v7M350 118.5h7M353.5 115v7M350 120.5h7M353.5 117v7M350 122.5h7M353.5 119v7M350 123.5h7M353.5 120v7M350 125.5h7M353.5 122v7M350 137.5h7M353.5 134v7M351 117.5h7M354.5 114v7M351 123.5h7M354.5 120v7M351 124.5h7M354.5 121v7M351 128.5h7M354.5 125v7M351 131.5h7M354.5 128v7M351 133.5h7M354.5 130v7M351 138.5h7M354.5 135v7M352 121.5h7M355.5 118v7M352 122.5h7M355.5 119v7M352 126.5h7M355.5 123v7M352 128.5h7M355.5 125v7M352 137.5h7M355.5 134v7M352 138.5h7M355.5 135v7M352 149.5h7M355.5 146v7M353 119.5h7M356.5 116v7M353 125.5h7M356.5 122v7M353 126.5h7M356.5 123v7M353 127.5h7M356.5 124v7M353 137.5h7M356.5 134v7M354 119.5h7M357.5 116v7M354 121.5h7M357.5 118v7M354 123.5h7M357.5 120v7M354 125.5h7M357.5 122v7M354 126.5h7M357.5 123v7M355 118.5h7M358.5 115v7M355 120.5h7M358.5 117v7M355 121.5h7M358.5 118v7M355 125.5h7M358.5 122v7M355 126.5h7M358.5 123v7M355 127.5h7M358.5 124v7M355 137.5h7M358.5 134v7M356 121.5h7M359.5 118v7M356 122.5h7M359.5 119v7M356 123.5h7M359.5 120v7M356 126.5h7M359.5 123v7M356 138.5h7M359.5 135v7M357 119.5h7M360.5 116v7M357 121.5h7M360.5 118v7M357 124.5h7M360.5 121v7M357 126.5h7M360.5 123v7M357 128.5h7M360.5 125v7M357 129.5h7M360.5 126v7M357 130.5h7M360.5 127v7M357 134.5h7M360.5 131v7M358 118.5h7M361.5 115v7M358 121.5h7M361.5 118v7M358 122.5h7M361.5 119v7M358 123.5h7M361.5 120v7M358 124.5h7M361.5 121v7M358 126.5h7M361.5 123v7M358 132.5h7M361.5 129v7M359 121.5h7M362.5 118v7M359 124.5h7M362.5 121v7M359 125.5h7M362.5 122v7M359 128.5h7M362.5 125v7M359 135.5h7M362.5 132v7M359 136.5h7M362.5 133v7M360 120.5h7M363.5 117v7M360 123.5h7M363.5 120v7M360 125.5h7M363.5 122v7M360 139.5h7M363.5 136v7M360 144.5h7M363.5 141v7M361 121.5h7M364.5 118v7M361 124.5h7M364.5 121v7M361 127.5h7M364.5 124v7M361 132.5h7M364.5 129v7M362 116.5h7M365.5 113v7M362 119.5h7M365.5 116v7M362 120.5h7M365.5 117v7M362 122.5h7M365.5 119v7M362 123.5h7M365.5 120v7M362 125.5h7M365.5 122v7M362 127.5h7M365.5 124v7M363 118.5h7M366.5 115v7M363 120.5h7M366.5 117v7M363 121.5h7M366.5 118v7M363 123.5h7M366.5 120v7M363 124.5h7M366.5 121v7M363 125.5h7M366.5 122v7M363 126.5h7M366.5 123v7M363 130.5h7M366.5 127v7M364 119.5h7M367.5 116v7M364 124.5h7M367.5 121v7M364 125.5h7M367.5 122v7M364 126.5h7M367.5 123v7M364 131.5h7M367.5 128v7M364 134.5h7M367.5 131v7M365 117.5h7M368.5 114v7M365 121.5h7M368.5 118v7M365 124.5h7M368.5 121v7M365 125.5h7M368.5 122v7M365 130.5h7M368.5 127v7M365 131.5h7M368.5 128v7M365 146.5h7M368.5 143v7M366 122.5h7M369.5 119v7M366 123.5h7M369.5 120v7M366 125.5h7M369.5 122v7M366 126.5h7M369.5 123v7M366 127.5h7M369.5 124v7M366 130.5h7M369.5 127v7M366 137.5h7M369.5 134v7M367 119.5h7M370.5 116v7M367 121.5h7M370.5 118v7M367 123.5h7M370.5 120v7M367 124.5h7M370.5 121v7M367 127.5h7M370.5 124v7M367 140.5h7M370.5 137v7M367 142.5h7M370.5 139v7M368 122.5h7M371.5 119v7M368 123.5h7M371.5 120v7M368 124.5h7M371.5 121v7M368 125.5h7M371.5 122v7M368 126.5h7M371.5 123v7M368 128.5h7M371.5 125v7M368 141.5h7M371.5 138v7M368 143.5h7M371.5 140v7M369 120.5h7M372.5 117v7M369 124.5h7M372.5 121v7M369 125.5h7M372.5 122v7M369 128.5h7M372.5 125v7M369 129.5h7M372.5 126v7M369 130.5h7M372.5 127v7M369 140.5h7M372.5 137v7M370 118.5h7M373.5 115v7M370 123.5h7M373.5 120v7M370 124.5h7M373.5 121v7M370 127.5h7M373.5 124v7M370 130.5h7M373.5 127v7M370 132.5h7M373.5 129v7M371 118.5h7M374.5 115v7M371 122.5h7M374.5 119v7M371 123.5h7M374.5 120v7M371 124.5h7M374.5 121v7M371 125.5h7M374.5 122v7M371 136.5h7M374.5 133v7M371 138.5h7M374.5 135v7M372 120.5h7M375.5 117v7M372 121.5h7M375.5 118v7M372 122.5h7M375.5 119v7M372 123.5h7M375.5 120v7M372 124.5h7M375.5 121v7M372 144.5h7M375.5 141v7M373 121.5h7M376.5 118v7M373 123.5h7M376.5 120v7M373 124.5h7M376.5 121v7M373 125.5h7M376.5 122v7M373 128.5h7M376.5 125v7M373 141.5h7M376.5 138v7M374 118.5h7M377.5 115v7M374 120.5h7M377.5 117v7M374 125.5h7M377.5 122v7M374 128.5h7M377.5 125v7M374 132.5h7M377.5 129v7M374 135.5h7M377.5 132v7M374 136.5h7M377.5 133v7M375 119.5h7M378.5 116v7M375 120.5h7M378.5 117v7M375 122.5h7M378.5 119v7M375 123.5h7M378.5 120v7M375 124.5h7M378.5 121v7M375 127.5h7M378.5 124v7M376 121.5h7M379.5 118v7M376 122.5h7M379.5 119v7M376 124.5h7M379.5 121v7M376 125.5h7M379.5 122v7M376 130.5h7M379.5 127v7M376 132.5h7M379.5 129v7M377 122.5h7M380.5 119v7M377 123.5h7M380.5 120v7M377 124.5h7M380.5 121v7M377 125.5h7M380.5 122v7M377 128.5h7M380.5 125v7M377 131.5h7M380.5 128v7M378 118.5h7M381.5 115v7M378 121.5h7M381.5 118v7M378 122.5h7M381.5 119v7M378 124.5h7M381.5 121v7M378 126.5h7M381.5 123v7M378 129.5h7M381.5 126v7M378 130.5h7M381.5 127v7M379 120.5h7M382.5 117v7M379 121.5h7M382.5 118v7M379 124.5h7M382.5 121v7M379 125.5h7M382.5 122v7M379 126.5h7M382.5 123v7M379 127.5h7M382.5 124v7M379 132.5h7M382.5 129v7M379 137.5h7M382.5 134v7M380 119.5h7M383.5 116v7M380 122.5h7M383.5 119v7M380 123.5h7M383.5 120v7M380 124.5h7M383.5 121v7M380 125.5h7M383.5 122v7M380 126.5h7M383.5 123v7M381 120.5h7M384.5 117v7M381 122.5h7M384.5 119v7M381 123.5h7M384.5 120v7M381 125.5h7M384.5 122v7M381 129.5h7M384.5 126v7M381 137.5h7M384.5 134v7M382 121.5h7M385.5 118v7M382 122.5h7M385.5 119v7M382 123.5h7M385.5 120v7M382 125.5h7M385.5 122v7M382 131.5h7M385.5 128v7M382 137.5h7M385.5 134v7M383 119.5h7M386.5 116v7M383 122.5h7M386.5 119v7M383 125.5h7M386.5 122v7M383 127.5h7M386.5 124v7M383 140.5h7M386.5 137v7M384 116.5h7M387.5 113v7M384 120.5h7M387.5 117v7M384 123.5h7M387.5 120v7M384 124.5h7M387.5 121v7M384 133.5h7M387.5 130v7M384 135.5h7M387.5 132v7M385 120.5h7M388.5 117v7M385 121.5h7M388.5 118v7M385 122.5h7M388.5 119v7M385 123.5h7M388.5 120v7M385 124.5h7M388.5 121v7M385 125.5h7M388.5 122v7M385 136.5h7M388.5 133v7M386 122.5h7M389.5 119v7M386 123.5h7M389.5 120v7M386 124.5h7M389.5 121v7M386 126.5h7M389.5 123v7M386 128.5h7M389.5 125v7M386 129.5h7M389.5 126v7M386 134.5h7M389.5 131v7M387 122.5h7M390.5 119v7M387 124.5h7M390.5 121v7M387 125.5h7M390.5 122v7M387 131.5h7M390.5 128v7M387 141.5h7M390.5 138v7M388 120.5h7M391.5 117v7M388 122.5h7M391.5 119v7M388 123.5h7M391.5 120v7M388 124.5h7M391.5 121v7M388 127.5h7M391.5 124v7M388 128.5h7M391.5 125v7M388 132.5h7M391.5 129v7M389 117.5h7M392.5 114v7M389 122.5h7M392.5 119v7M389 123.5h7M392.5 120v7M389 124.5h7M392.5 121v7M389 125.5h7M392.5 122v7M389 126.5h7M392.5 123v7M390 121.5h7M393.5 118v7M390 125.5h7M393.5 122v7M390 126.5h7M393.5 123v7M390 130.5h7M393.5 127v7M390 140.5h7M393.5 137v7M391 118.5h7M394.5 115v7M391 120.5h7M394.5 117v7M391 123.5h7M394.5 120v7M391 125.5h7M394.5 122v7M391 126.5h7M394.5 123v7M391 129.5h7M394.5 126v7M391 146.5h7M394.5 143v7M392 121.5h7M395.5 118v7M392 123.5h7M395.5 120v7M392 126.5h7M395.5 123v7M392 136.5h7M395.5 133v7M392 137.5h7M395.5 134v7M392 143.5h7M395.5 140v7M393 122.5h7M396.5 119v7M393 124.5h7M396.5 121v7M393 125.5h7M396.5 122v7M393 132.5h7M396.5 129v7M394 121.5h7M397.5 118v7M394 122.5h7M397.5 119v7M394 126.5h7M397.5 123v7M394 127.5h7M397.5 124v7M394 135.5h7M397.5 132v7M394 136.5h7M397.5 133v7M394 141.5h7M397.5 138v7M395 119.5h7M398.5 116v7M395 120.5h7M398.5 117v7M395 123.5h7M398.5 120v7M395 130.5h7M398.5 127v7M395 133.5h7M398.5 130v7M396 116.5h7M399.5 113v7M396 121.5h7M399.5 118v7M396 122.5h7M399.5 119v7M396 126.5h7M399.5 123v7M396 127.5h7M399.5 124v7M396 148.5h7M399.5 145v7M397 122.5h7M400.5 119v7M397 123.5h7M400.5 120v7M397 126.5h7M400.5 123v7M397 130.5h7M400.5 127v7M397 132.5h7M400.5 129v7M397 138.5h7M400.5 135v7M397 146.5h7M400.5 143v7M398 114.5h7M401.5 111v7M398 119.5h7M401.5 116v7M398 122.5h7M401.5 119v7M398 124.5h7M401.5 121v7M398 125.5h7M401.5 122v7M398 138.5h7M401.5 135v7M399 120.5h7M402.5 117v7M399 123.5h7M402.5 120v7M399 124.5h7M402.5 121v7M399 126.5h7M402.5 123v7M399 129.5h7M402.5 126v7M399 130.5h7M402.5 127v7M400 120.5h7M403.5 117v7M400 122.5h7M403.5 119v7M400 125.5h7M403.5 122v7M400 128.5h7M403.5 125v7M400 130.5h7M403.5 127v7M400 136.5h7M403.5 133v7M401 114.5h7M404.5 111v7M401 121.5h7M404.5 118v7M401 125.5h7M404.5 122v7M401 130.5h7M404.5 127v7M401 134.5h7M404.5 131v7M402 116.5h7M405.5 113v7M402 122.5h7M405.5 119v7M402 123.5h7M405.5 120v7M402 124.5h7M405.5 121v7M402 125.5h7M405.5 122v7M402 126.5h7M405.5 123v7M403 119.5h7M406.5 116v7M403 121.5h7M406.5 118v7M403 123.5h7M406.5 120v7M403 124.5h7M406.5 121v7M403 128.5h7M406.5 125v7M403 131.5h7M406.5 128v7M403 138.5h7M406.5 135v7M404 120.5h7M407.5 117v7M404 124.5h7M407.5 121v7M404 125.5h7M407.5 122v7M404 126.5h7M407.5 123v7M404 127.5h7M407.5 124v7M404 130.5h7M407.5 127v7M405 121.5h7M408.5 118v7M405 123.5h7M408.5 120v7M405 124.5h7M408.5 121v7M405 125.5h7M408.5 122v7M405 127.5h7M408.5 124v7M405 133.5h7M408.5 130v7M405 134.5h7M408.5 131v7M406 120.5h7M409.5 117v7M406 121.5h7M409.5 118v7M406 122.5h7M409.5 119v7M406 123.5h7M409.5 120v7M406 124.5h7M409.5 121v7M407 121.5h7M410.5 118v7M407 123.5h7M410.5 120v7M407 124.5h7M410.5 121v7M407 126.5h7M410.5 123v7M407 130.5h7M410.5 127v7M407 134.5h7M410.5 131v7M408 121.5h7M411.5 118v7M408 123.5h7M411.5 120v7M408 124.5h7M411.5 121v7M408 125.5h7M411.5 122v7M408 126.5h7M411.5 123v7M408 128.5h7M411.5 125v7M409 119.5h7M412.5 116v7M409 122.5h7M412.5 119v7M409 123.5h7M412.5 120v7M409 124.5h7M412.5 121v7M409 125.5h7M412.5 122v7M409 132.5h7M412.5 129v7M410 118.5h7M413.5 115v7M410 121.5h7M413.5 118v7M410 124.5h7M413.5 121v7M410 125.5h7M413.5 122v7M410 126.5h7M413.5 123v7M410 128.5h7M413.5 125v7M410 130.5h7M413.5 127v7M411 120.5h7M414.5 117v7M411 121.5h7M414.5 118v7M411 122.5h7M414.5 119v7M411 123.5h7M414.5 120v7M411 125.5h7M414.5 122v7M411 130.5h7M414.5 127v7M411 133.5h7M414.5 130v7M412 124.5h7M415.5 121v7M412 125.5h7M415.5 122v7M412 126.5h7M415.5 123v7M412 132.5h7M415.5 129v7M412 141.5h7M415.5 138v7M413 120.5h7M416.5 117v7M413 122.5h7M416.5 119v7M413 123.5h7M416.5 120v7M413 125.5h7M416.5 122v7M413 126.5h7M416.5 123v7M413 131.5h7M416.5 128v7M413 132.5h7M416.5 129v7M413 134.5h7M416.5 131v7M414 117.5h7M417.5 114v7M414 122.5h7M417.5 119v7M414 123.5h7M417.5 120v7M414 126.5h7M417.5 123v7M414 134.5h7M417.5 131v7M414 135.5h7M417.5 132v7M414 139.5h7M417.5 136v7M415 119.5h7M418.5 116v7M415 122.5h7M418.5 119v7M415 123.5h7M418.5 120v7M415 126.5h7M418.5 123v7M415 129.5h7M418.5 126v7M415 137.5h7M418.5 134v7M416 122.5h7M419.5 119v7M416 123.5h7M419.5 120v7M416 125.5h7M419.5 122v7M416 127.5h7M419.5 124v7M417 118.5h7M420.5 115v7M417 120.5h7M420.5 117v7M417 121.5h7M420.5 118v7M417 123.5h7M420.5 120v7M417 125.5h7M420.5 122v7M417 146.5h7M420.5 143v7M418 116.5h7M421.5 113v7M418 121.5h7M421.5 118v7M418 122.5h7M421.5 119v7M418 124.5h7M421.5 121v7M418 125.5h7M421.5 122v7M418 136.5h7M421.5 133v7M419 120.5h7M422.5 117v7M419 121.5h7M422.5 118v7M419 125.5h7M422.5 122v7M419 128.5h7M422.5 125v7M419 134.5h7M422.5 131v7M420 121.5h7M423.5 118v7M420 123.5h7M423.5 120v7M420 124.5h7M423.5 121v7M420 126.5h7M423.5 123v7M420 127.5h7M423.5 124v7M421 120.5h7M424.5 117v7M421 121.5h7M424.5 118v7M421 125.5h7M424.5 122v7M421 126.5h7M424.5 123v7M421 135.5h7M424.5 132v7M421 141.5h7M424.5 138v7M422 121.5h7M425.5 118v7M422 123.5h7M425.5 120v7M422 124.5h7M425.5 121v7M422 125.5h7M425.5 122v7M422 126.5h7M425.5 123v7M422 128.5h7M425.5 125v7M422 130.5h7M425.5 127v7M423 121.5h7M426.5 118v7M423 124.5h7M426.5 121v7M423 125.5h7M426.5 122v7M423 126.5h7M426.5 123v7M423 135.5h7M426.5 132v7M424 120.5h7M427.5 117v7M424 122.5h7M427.5 119v7M424 123.5h7M427.5 120v7M424 127.5h7M427.5 124v7M424 128.5h7M427.5 125v7M424 138.5h7M427.5 135v7M424 144.5h7M427.5 141v7M424 146.5h7M427.5 143v7M425 123.5h7M428.5 120v7M425 124.5h7M428.5 121v7M425 125.5h7M428.5 122v7M425 128.5h7M428.5 125v7M425 132.5h7M428.5 129v7M425 136.5h7M428.5 133v7M425 140.5h7M428.5 137v7M426 120.5h7M429.5 117v7M426 122.5h7M429.5 119v7M426 123.5h7M429.5 120v7M426 124.5h7M429.5 121v7M426 125.5h7M429.5 122v7M426 126.5h7M429.5 123v7M427 118.5h7M430.5 115v7M427 125.5h7M430.5 122v7M427 126.5h7M430.5 123v7M427 129.5h7M430.5 126v7M427 137.5h7M430.5 134v7M428 121.5h7M431.5 118v7M428 122.5h7M431.5 119v7M428 123.5h7M431.5 120v7M428 125.5h7M431.5 122v7M428 127.5h7M431.5 124v7M428 128.5h7M431.5 125v7M428 132.5h7M431.5 129v7M429 124.5h7M432.5 121v7M429 125.5h7M432.5 122v7M429 126.5h7M432.5 123v7M429 131.5h7M432.5 128v7M429 134.5h7M432.5 131v7M429 135.5h7M432.5 132v7M430 121.5h7M433.5 118v7M430 126.5h7M433.5 123v7M430 128.5h7M433.5 125v7M430 135.5h7M433.5 132v7M430 138.5h7M433.5 135v7M430 140.5h7M433.5 137v7M431 119.5h7M434.5 116v7M431 121.5h7M434.5 118v7M431 123.5h7M434.5 120v7M431 125.5h7M434.5 122v7M431 127.5h7M434.5 124v7M431 134.5h7M434.5 131v7M431 141.5h7M434.5 138v7M432 123.5h7M435.5 120v7M432 124.5h7M435.5 121v7M432 125.5h7M435.5 122v7M432 126.5h7M435.5 123v7M433 122.5h7M436.5 119v7M433 123.5h7M436.5 120v7M433 124.5h7M436.5 121v7M433 125.5h7M436.5 122v7M433 134.5h7M436.5 131v7M433 151.5h7M436.5 148v7M434 121.5h7M437.5 118v7M434 122.5h7M437.5 119v7M434 125.5h7M437.5 122v7M434 126.5h7M437.5 123v7M434 127.5h7M437.5 124v7M434 129.5h7M437.5 126v7M434 131.5h7M437.5 128v7M435 119.5h7M438.5 116v7M435 121.5h7M438.5 118v7M435 122.5h7M438.5 119v7M435 123.5h7M438.5 120v7M435 129.5h7M438.5 126v7M435 130.5h7M438.5 127v7M435 133.5h7M438.5 130v7M436 120.5h7M439.5 117v7M436 121.5h7M439.5 118v7M436 122.5h7M439.5 119v7M436 126.5h7M439.5 123v7M436 135.5h7M439.5 132v7M436 139.5h7M439.5 136v7M437 121.5h7M440.5 118v7M437 123.5h7M440.5 120v7M437 124.5h7M440.5 121v7M437 125.5h7M440.5 122v7M437 127.5h7M440.5 124v7M437 129.5h7M440.5 126v7M438 122.5h7M441.5 119v7M438 123.5h7M441.5 120v7M438 124.5h7M441.5 121v7M438 126.5h7M441.5 123v7M438 130.5h7M441.5 127v7M439 119.5h7M442.5 116v7M439 120.5h7M442.5 117v7M439 122.5h7M442.5 119v7M439 123.5h7M442.5 120v7M439 127.5h7M442.5 124v7M439 131.5h7M442.5 128v7M439 137.5h7M442.5 134v7M440 117.5h7M443.5 114v7M440 119.5h7M443.5 116v7M440 123.5h7M443.5 120v7M440 124.5h7M443.5 121v7M440 128.5h7M443.5 125v7M440 130.5h7M443.5 127v7M441 120.5h7M444.5 117v7M441 122.5h7M444.5 119v7M441 123.5h7M444.5 120v7M441 124.5h7M444.5 121v7M441 128.5h7M444.5 125v7M442 119.5h7M445.5 116v7M442 122.5h7M445.5 119v7M442 123.5h7M445.5 120v7M442 124.5h7M445.5 121v7M442 125.5h7M445.5 122v7M442 126.5h7M445.5 123v7M442 129.5h7M445.5 126v7M443 118.5h7M446.5 115v7M443 120.5h7M446.5 117v7M443 122.5h7M446.5 119v7M443 123.5h7M446.5 120v7M443 124.5h7M446.5 121v7M443 131.5h7M446.5 128v7M443 139.5h7M446.5 136v7M444 119.5h7M447.5 116v7M444 121.5h7M447.5 118v7M444 122.5h7M447.5 119v7M444 123.5h7M447.5 120v7M444 127.5h7M447.5 124v7M444 128.5h7M447.5 125v7M445 122.5h7M448.5 119v7M445 124.5h7M448.5 121v7M445 125.5h7M448.5 122v7M445 126.5h7M448.5 123v7M445 137.5h7M448.5 134v7M446 121.5h7M449.5 118v7M446 122.5h7M449.5 119v7M446 123.5h7M449.5 120v7M446 125.5h7M449.5 122v7M446 130.5h7M449.5 127v7M446 133.5h7M449.5 130v7M446 137.5h7M449.5 134v7M447 118.5h7M450.5 115v7M447 121.5h7M450.5 118v7M447 123.5h7M450.5 120v7M447 125.5h7M450.5 122v7M447 126.5h7M450.5 123v7M447 127.5h7M450.5 124v7M447 128.5h7M450.5 125v7M448 119.5h7M451.5 116v7M448 120.5h7M451.5 117v7M448 123.5h7M451.5 120v7M448 125.5h7M451.5 122v7M448 131.5h7M451.5 128v7M448 138.5h7M451.5 135v7M449 120.5h7M452.5 117v7M449 123.5h7M452.5 120v7M449 124.5h7M452.5 121v7M449 125.5h7M452.5 122v7M449 126.5h7M452.5 123v7M449 130.5h7M452.5 127v7M449 137.5h7M452.5 134v7M450 120.5h7M453.5 117v7M450 121.5h7M453.5 118v7M450 122.5h7M453.5 119v7M450 123.5h7M453.5 120v7M450 124.5h7M453.5 121v7M450 141.5h7M453.5 138v7M451 120.5h7M454.5 117v7M451 121.5h7M454.5 118v7M451 122.5h7M454.5 119v7M451 123.5h7M454.5 120v7M451 124.5h7M454.5 121v7M451 126.5h7M454.5 123v7M452 121.5h7M455.5 118v7M452 123.5h7M455.5 120v7M452 125.5h7M455.5 122v7M452 126.5h7M455.5 123v7M452 127.5h7M455.5 124v7M452 140.5h7M455.5 137v7M453 118.5h7M456.5 115v7M453 121.5h7M456.5 118v7M453 123.5h7M456.5 120v7M453 124.5h7M456.5 121v7M453 125.5h7M456.5 122v7M453 132.5h7M456.5 129v7M453 144.5h7M456.5 141v7M454 117.5h7M457.5 114v7M454 124.5h7M457.5 121v7M454 125.5h7M457.5 122v7M454 126.5h7M457.5 123v7M454 127.5h7M457.5 124v7M454 130.5h7M457.5 127v7M454 145.5h7M457.5 142v7M455 123.5h7M458.5 120v7M455 124.5h7M458.5 121v7M455 125.5h7M458.5 122v7M455 126.5h7M458.5 123v7M455 130.5h7M458.5 127v7M455 134.5h7M458.5 131v7M456 120.5h7M459.5 117v7M456 123.5h7M459.5 120v7M456 124.5h7M459.5 121v7M456 128.5h7M459.5 125v7M456 136.5h7M459.5 133v7M456 139.5h7M459.5 136v7M457 123.5h7M460.5 120v7M457 124.5h7M460.5 121v7M457 125.5h7M460.5 122v7M457 126.5h7M460.5 123v7M457 144.5h7M460.5 141v7M458 120.5h7M461.5 117v7M458 123.5h7M461.5 120v7M458 124.5h7M461.5 121v7M458 127.5h7M461.5 124v7M458 130.5h7M461.5 127v7M458 136.5h7M461.5 133v7M458 144.5h7M461.5 141v7M459 116.5h7M462.5 113v7M459 117.5h7M462.5 114v7M459 123.5h7M462.5 120v7M459 124.5h7M462.5 121v7M459 125.5h7M462.5 122v7M459 137.5h7M462.5 134v7M459 140.5h7M462.5 137v7M460 117.5h7M463.5 114v7M460 124.5h7M463.5 121v7M460 125.5h7M463.5 122v7M460 128.5h7M463.5 125v7M460 130.5h7M463.5 127v7M460 133.5h7M463.5 130v7M460 140.5h7M463.5 137v7M461 119.5h7M464.5 116v7M461 121.5h7M464.5 118v7M461 123.5h7M464.5 120v7M461 125.5h7M464.5 122v7M461 126.5h7M464.5 123v7M461 127.5h7M464.5 124v7M461 132.5h7M464.5 129v7M462 119.5h7M465.5 116v7M462 124.5h7M465.5 121v7M462 125.5h7M465.5 122v7M462 127.5h7M465.5 124v7M462 129.5h7M465.5 126v7M462 140.5h7M465.5 137v7M463 117.5h7M466.5 114v7M463 121.5h7M466.5 118v7M463 124.5h7M466.5 121v7M463 127.5h7M466.5 124v7M463 132.5h7M466.5 129v7M463 150.5h7M466.5 147v7M464 120.5h7M467.5 117v7M464 122.5h7M467.5 119v7M464 123.5h7M467.5 120v7M464 125.5h7M467.5 122v7M464 128.5h7M467.5 125v7M464 129.5h7M467.5 126v7M464 142.5h7M467.5 139v7M465 120.5h7M468.5 117v7M465 121.5h7M468.5 118v7M465 122.5h7M468.5 119v7M465 124.5h7M468.5 121v7M465 125.5h7M468.5 122v7M465 126.5h7M468.5 123v7M465 130.5h7M468.5 127v7M465 133.5h7M468.5 130v7M466 125.5h7M469.5 122v7M466 126.5h7M469.5 123v7M466 130.5h7M469.5 127v7M466 133.5h7M469.5 130v7M466 137.5h7M469.5 134v7M466 141.5h7M469.5 138v7M467 122.5h7M470.5 119v7M467 125.5h7M470.5 122v7M467 126.5h7M470.5 123v7M467 127.5h7M470.5 124v7M467 131.5h7M470.5 128v7M467 136.5h7M470.5 133v7M468 118.5h7M471.5 115v7M468 120.5h7M471.5 117v7M468 122.5h7M471.5 119v7M468 127.5h7M471.5 124v7M468 129.5h7M471.5 126v7M468 130.5h7M471.5 127v7M468 134.5h7M471.5 131v7M469 120.5h7M472.5 117v7M469 123.5h7M472.5 120v7M469 124.5h7M472.5 121v7M469 125.5h7M472.5 122v7M469 131.5h7M472.5 128v7M469 133.5h7M472.5 130v7M469 147.5h7M472.5 144v7M470 118.5h7M473.5 115v7M470 119.5h7M473.5 116v7M470 123.5h7M473.5 120v7M470 124.5h7M473.5 121v7M470 125.5h7M473.5 122v7M470 126.5h7M473.5 123v7M470 128.5h7M473.5 125v7M470 137.5h7M473.5 134v7M471 122.5h7M474.5 119v7M471 123.5h7M474.5 120v7M471 124.5h7M474.5 121v7M471 125.5h7M474.5 122v7M471 127.5h7M474.5 124v7M471 133.5h7M474.5 130v7M471 140.5h7M474.5 137v7M472 120.5h7M475.5 117v7M472 121.5h7M475.5 118v7M472 122.5h7M475.5 119v7M472 123.5h7M475.5 120v7M472 124.5h7M475.5 121v7M472 125.5h7M475.5 122v7M472 127.5h7M475.5 124v7M472 128.5h7M475.5 125v7M473 121.5h7M476.5 118v7M473 122.5h7M476.5 119v7M473 123.5h7M476.5 120v7M473 126.5h7M476.5 123v7M473 144.5h7M476.5 141v7M474 119.5h7M477.5 116v7M474 121.5h7M477.5 118v7M474 122.5h7M477.5 119v7M474 123.5h7M477.5 120v7M474 124.5h7M477.5 121v7M474 127.5h7M477.5 124v7M475 122.5h7M478.5 119v7M475 123.5h7M478.5 120v7M475 125.5h7M478.5 122v7M475 126.5h7M478.5 123v7M475 131.5h7M478.5 128v7M476 120.5h7M479.5 117v7M476 125.5h7M479.5 122v7M476 126.5h7M479.5 123v7M476 130.5h7M479.5 127v7M477 115.5h7M480.5 112v7M477 121.5h7M480.5 118v7M477 125.5h7M480.5 122v7M477 128.5h7M480.5 125v7M477 130.5h7M480.5 127v7M478 119.5h7M481.5 116v7M478 120.5h7M481.5 117v7M478 121.5h7M481.5 118v7M478 122.5h7M481.5 119v7M478 124.5h7M481.5 121v7M478 127.5h7M481.5 124v7M478 142.5h7M481.5 139v7M478 152.5h7M481.5 149v7M479 119.5h7M482.5 116v7M479 120.5h7M482.5 117v7M479 121.5h7M482.5 118v7M479 122.5h7M482.5 119v7M479 124.5h7M482.5 121v7M480 120.5h7M483.5 117v7M480 124.5h7M483.5 121v7M480 126.5h7M483.5 123v7M480 127.5h7M483.5 124v7M480 128.5h7M483.5 125v7M480 134.5h7M483.5 131v7M480 140.5h7M483.5 137v7M481 118.5h7M484.5 115v7M481 120.5h7M484.5 117v7M481 121.5h7M484.5 118v7M481 123.5h7M484.5 120v7M481 124.5h7M484.5 121v7M481 126.5h7M484.5 123v7M481 127.5h7M484.5 124v7M481 130.5h7M484.5 127v7M482 120.5h7M485.5 117v7M482 121.5h7M485.5 118v7M482 122.5h7M485.5 119v7M482 125.5h7M485.5 122v7M482 126.5h7M485.5 123v7M482 129.5h7M485.5 126v7M483 119.5h7M486.5 116v7M483 120.5h7M486.5 117v7M483 123.5h7M486.5 120v7M483 124.5h7M486.5 121v7M483 125.5h7M486.5 122v7M483 131.5h7M486.5 128v7M483 134.5h7M486.5 131v7M484 115.5h7M487.5 112v7M484 121.5h7M487.5 118v7M484 123.5h7M487.5 120v7M484 125.5h7M487.5 122v7M484 126.5h7M487.5 123v7M484 128.5h7M487.5 125v7M484 133.5h7M487.5 130v7M485 121.5h7M488.5 118v7M485 122.5h7M488.5 119v7M485 123.5h7M488.5 120v7M485 124.5h7M488.5 121v7M485 130.5h7M488.5 127v7M485 132.5h7M488.5 129v7M486 121.5h7M489.5 118v7M486 124.5h7M489.5 121v7M486 125.5h7M489.5 122v7M486 131.5h7M489.5 128v7M486 135.5h7M489.5 132v7M486 159.5h7M489.5 156v7M487 121.5h7M490.5 118v7M487 122.5h7M490.5 119v7M487 124.5h7M490.5 121v7M487 125.5h7M490.5 122v7M487 128.5h7M490.5 125v7M487 131.5h7M490.5 128v7M487 140.5h7M490.5 137v7M488 121.5h7M491.5 118v7M488 123.5h7M491.5 120v7M488 124.5h7M491.5 121v7M488 126.5h7M491.5 123v7M488 135.5h7M491.5 132v7M488 137.5h7M491.5 134v7M488 145.5h7M491.5 142v7M489 120.5h7M492.5 117v7M489 121.5h7M492.5 118v7M489 122.5h7M492.5 119v7M489 123.5h7M492.5 120v7M489 124.5h7M492.5 121v7M489 131.5h7M492.5 128v7M489 132.5h7M492.5 129v7M489 134.5h7M492.5 131v7M490 123.5h7M493.5 120v7M490 124.5h7M493.5 121v7M490 126.5h7M493.5 123v7M490 127.5h7M493.5 124v7M490 128.5h7M493.5 125v7M490 130.5h7M493.5 127v7M491 121.5h7M494.5 118v7M491 124.5h7M494.5 121v7M491 125.5h7M494.5 122v7M491 126.5h7M494.5 123v7M491 128.5h7M494.5 125v7M491 139.5h7M494.5 136v7M492 123.5h7M495.5 120v7M492 125.5h7M495.5 122v7M492 127.5h7M495.5 124v7M492 131.5h7M495.5 128v7M492 134.5h7M495.5 131v7M493 119.5h7M496.5 116v7M493 124.5h7M496.5 121v7M493 125.5h7M496.5 122v7M493 126.5h7M496.5 123v7M493 127.5h7M496.5 124v7M493 128.5h7M496.5 125v7M493 130.5h7M496.5 127v7M493 148.5h7M496.5 145v7M494 120.5h7M497.5 117v7M494 121.5h7M497.5 118v7M494 123.5h7M497.5 120v7M494 126.5h7M497.5 123v7M494 127.5h7M497.5 124v7M494 135.5h7M497.5 132v7M495 119.5h7M498.5 116v7M495 122.5h7M498.5 119v7M495 123.5h7M498.5 120v7M495 126.5h7M498.5 123v7M495 131.5h7M498.5 128v7M495 139.5h7M498.5 136v7M496 123.5h7M499.5 120v7M496 125.5h7M499.5 122v7M496 126.5h7M499.5 123v7M496 127.5h7M499.5 124v7M496 129.5h7M499.5 126v7M496 147.5h7M499.5 144v7M497 120.5h7M500.5 117v7M497 122.5h7M500.5 119v7M497 124.5h7M500.5 121v7M497 125.5h7M500.5 122v7M497 126.5h7M500.5 123v7M497 129.5h7M500.5 126v7M498 124.5h7M501.5 121v7M498 125.5h7M501.5 122v7M498 126.5h7M501.5 123v7M498 127.5h7M501.5 124v7M498 130.5h7M501.5 127v7M498 142.5h7M501.5 139v7M499 117.5h7M502.5 114v7M499 118.5h7M502.5 115v7M499 122.5h7M502.5 119v7M499 123.5h7M502.5 120v7M499 131.5h7M502.5 128v7M500 119.5h7M503.5 116v7M500 120.5h7M503.5 117v7M500 121.5h7M503.5 118v7M500 123.5h7M503.5 120v7M500 125.5h7M503.5 122v7M500 127.5h7M503.5 124v7M501 120.5h7M504.5 117v7M501 121.5h7M504.5 118v7M501 122.5h7M504.5 119v7M501 123.5h7M504.5 120v7M501 127.5h7M504.5 124v7M501 130.5h7M504.5 127v7M502 119.5h7M505.5 116v7M502 120.5h7M505.5 117v7M502 125.5h7M505.5 122v7M502 126.5h7M505.5 123v7M502 127.5h7M505.5 124v7M502 129.5h7M505.5 126v7M502 140.5h7M505.5 137v7M503 121.5h7M506.5 118v7M503 122.5h7M506.5 119v7M503 124.5h7M506.5 121v7M503 125.5h7M506.5 122v7M503 127.5h7M506.5 124v7M503 131.5h7M506.5 128v7M503 134.5h7M506.5 131v7M504 122.5h7M507.5 119v7M504 123.5h7M507.5 120v7M504 124.5h7M507.5 121v7M504 125.5h7M507.5 122v7M504 134.5h7M507.5 131v7M504 150.5h7M507.5 147v7M505 121.5h7M508.5 118v7M505 123.5h7M508.5 120v7M505 124.5h7M508.5 121v7M505 125.5h7M508.5 122v7M505 127.5h7M508.5 124v7M505 131.5h7M508.5 128v7M506 120.5h7M509.5 117v7M506 121.5h7M509.5 118v7M506 123.5h7M509.5 120v7M506 124.5h7M509.5 121v7M506 125.5h7M509.5 122v7M506 130.5h7M509.5 127v7M506 133.5h7M509.5 130v7M507 122.5h7M510.5 119v7M507 123.5h7M510.5 120v7M507 124.5h7M510.5 121v7M507 126.5h7M510.5 123v7M507 140.5h7M510.5 137v7M507 146.5h7M510.5 143v7M508 120.5h7M511.5 117v7M508 122.5h7M511.5 119v7M508 123.5h7M511.5 120v7M508 125.5h7M511.5 122v7M508 128.5h7M511.5 125v7M508 129.5h7M511.5 126v7M509 121.5h7M512.5 118v7M509 122.5h7M512.5 119v7M509 123.5h7M512.5 120v7M509 128.5h7M512.5 125v7M509 135.5h7M512.5 132v7M510 118.5h7M513.5 115v7M510 121.5h7M513.5 118v7M510 122.5h7M513.5 119v7M510 124.5h7M513.5 121v7M510 126.5h7M513.5 123v7M510 127.5h7M513.5 124v7M510 138.5h7M513.5 135v7M511 122.5h7M514.5 119v7M511 124.5h7M514.5 121v7M511 126.5h7M514.5 123v7M511 128.5h7M514.5 125v7M511 130.5h7M514.5 127v7M511 133.5h7M514.5 130v7M511 139.5h7M514.5 136v7M512 119.5h7M515.5 116v7M512 123.5h7M515.5 120v7M512 124.5h7M515.5 121v7M512 126.5h7M515.5 123v7M512 127.5h7M515.5 124v7M512 134.5h7M515.5 131v7M512 137.5h7M515.5 134v7M513 118.5h7M516.5 115v7M513 122.5h7M516.5 119v7M513 123.5h7M516.5 120v7M513 125.5h7M516.5 122v7M513 126.5h7M516.5 123v7M513 127.5h7M516.5 124v7M513 129.5h7M516.5 126v7M514 118.5h7M517.5 115v7M514 120.5h7M517.5 117v7M514 122.5h7M517.5 119v7M514 124.5h7M517.5 121v7M514 128.5h7M517.5 125v7M514 129.5h7M517.5 126v7M514 130.5h7M517.5 127v7M515 116.5h7M518.5 113v7M515 119.5h7M518.5 116v7M515 120.5h7M518.5 117v7M515 122.5h7M518.5 119v7M515 123.5h7M518.5 120v7M515 134.5h7M518.5 131v7M516 118.5h7M519.5 115v7M516 120.5h7M519.5 117v7M516 121.5h7M519.5 118v7M516 123.5h7M519.5 120v7M516 128.5h7M519.5 125v7M516 131.5h7M519.5 128v7M517 117.5h7M520.5 114v7M517 118.5h7M520.5 115v7M517 123.5h7M520.5 120v7M517 124.5h7M520.5 121v7M517 125.5h7M520.5 122v7M517 126.5h7M520.5 123v7M517 128.5h7M520.5 125v7M517 135.5h7M520.5 132v7M517 155.5h7M520.5 152v7M518 119.5h7M521.5 116v7M518 121.5h7M521.5 118v7M518 122.5h7M521.5 119v7M518 124.5h7M521.5 121v7M518 125.5h7M521.5 122v7M518 132.5h7M521.5 129v7M518 135.5h7M521.5 132v7M518 154.5h7M521.5 151v7M519 119.5h7M522.5 116v7M519 123.5h7M522.5 120v7M519 125.5h7M522.5 122v7M519 127.5h7M522.5 124v7M519 130.5h7M522.5 127v7M519 139.5h7M522.5 136v7M520 118.5h7M523.5 115v7M520 120.5h7M523.5 117v7M520 121.5h7M523.5 118v7M520 122.5h7M523.5 119v7M520 123.5h7M523.5 120v7M520 126.5h7M523.5 123v7M520 129.5h7M523.5 126v7M520 134.5h7M523.5 131v7M521 116.5h7M524.5 113v7M521 121.5h7M524.5 118v7M521 122.5h7M524.5 119v7M521 125.5h7M524.5 122v7M521 129.5h7M524.5 126v7M521 133.5h7M524.5 130v7M522 121.5h7M525.5 118v7M522 122.5h7M525.5 119v7M522 124.5h7M525.5 121v7M522 126.5h7M525.5 123v7M522 131.5h7M525.5 128v7M523 119.5h7M526.5 116v7M523 121.5h7M526.5 118v7M523 122.5h7M526.5 119v7M523 123.5h7M526.5 120v7M523 130.5h7M526.5 127v7M523 131.5h7M526.5 128v7M523 133.5h7M526.5 130v7M523 135.5h7M526.5 132v7M523 146.5h7M526.5 143v7M524 120.5h7M527.5 117v7M524 124.5h7M527.5 121v7M524 127.5h7M527.5 124v7M524 137.5h7M527.5 134v7M524 144.5h7M527.5 141v7M525 119.5h7M528.5 116v7M525 122.5h7M528.5 119v7M525 125.5h7M528.5 122v7M525 127.5h7M528.5 124v7M525 133.5h7M528.5 130v7M526 121.5h7M529.5 118v7M526 123.5h7M529.5 120v7M526 125.5h7M529.5 122v7M526 126.5h7M529.5 123v7M526 131.5h7M529.5 128v7M526 133.5h7M529.5 130v7M527 118.5h7M530.5 115v7M527 120.5h7M530.5 117v7M527 121.5h7M530.5 118v7M527 122.5h7M530.5 119v7M527 125.5h7M530.5 122v7M527 130.5h7M530.5 127v7M527 136.5h7M530.5 133v7M528 118.5h7M531.5 115v7M528 122.5h7M531.5 119v7M528 124.5h7M531.5 121v7M528 125.5h7M531.5 122v7M528 126.5h7M531.5 123v7M529 118.5h7M532.5 115v7M529 121.5h7M532.5 118v7M529 125.5h7M532.5 122v7M529 126.5h7M532.5 123v7M529 135.5h7M532.5 132v7M529 137.5h7M532.5 134v7M530 115.5h7M533.5 112v7M530 119.5h7M533.5 116v7M530 121.5h7M533.5 118v7M530 124.5h7M533.5 121v7M530 125.5h7M533.5 122v7M530 126.5h7M533.5 123v7M530 129.5h7M533.5 126v7M531 116.5h7M534.5 113v7M531 121.5h7M534.5 118v7M531 122.5h7M534.5 119v7M531 124.5h7M534.5 121v7M531 126.5h7M534.5 123v7M532 115.5h7M535.5 112v7M532 119.5h7M535.5 116v7M532 120.5h7M535.5 117v7M532 123.5h7M535.5 120v7M532 124.5h7M535.5 121v7M532 125.5h7M535.5 122v7M532 126.5h7M535.5 123v7M532 128.5h7M535.5 125v7M533 120.5h7M536.5 117v7M533 121.5h7M536.5 118v7M533 122.5h7M536.5 119v7M533 125.5h7M536.5 122v7M533 126.5h7M536.5 123v7M533 127.5h7M536.5 124v7M533 129.5h7M536.5 126v7M534 120.5h7M537.5 117v7M534 121.5h7M537.5 118v7M534 122.5h7M537.5 119v7M534 123.5h7M537.5 120v7M534 124.5h7M537.5 121v7M534 125.5h7M537.5 122v7M535 115.5h7M538.5 112v7M535 118.5h7M538.5 115v7M535 121.5h7M538.5 118v7M535 122.5h7M538.5 119v7M535 123.5h7M538.5 120v7M535 124.5h7M538.5 121v7M535 125.5h7M538.5 122v7M536 120.5h7M539.5 117v7M536 121.5h7M539.5 118v7M536 122.5h7M539.5 119v7M536 123.5h7M539.5 120v7M536 124.5h7M539.5 121v7M536 150.5h7M539.5 147v7M537 116.5h7M540.5 113v7M537 117.5h7M540.5 114v7M537 119.5h7M540.5 116v7M537 122.5h7M540.5 119v7M537 123.5h7M540.5 120v7M537 124.5h7M540.5 121v7M538 120.5h7M541.5 117v7M538 122.5h7M541.5 119v7M538 123.5h7M541.5 120v7M538 125.5h7M541.5 122v7M539 122.5h7M542.5 119v7M539 123.5h7M542.5 120v7M539 124.5h7M542.5 121v7M539 128.5h7M542.5 125v7M539 131.5h7M542.5 128v7M539 139.5h7M542.5 136v7M540 120.5h7M543.5 117v7M540 122.5h7M543.5 119v7M540 125.5h7M543.5 122v7M540 126.5h7M543.5 123v7M540 128.5h7M543.5 125v7M541 118.5h7M544.5 115v7M541 120.5h7M544.5 117v7M541 122.5h7M544.5 119v7M541 123.5h7M544.5 120v7M541 124.5h7M544.5 121v7M542 117.5h7M545.5 114v7M542 120.5h7M545.5 117v7M542 121.5h7M545.5 118v7M542 123.5h7M545.5 120v7M542 124.5h7M545.5 121v7M542 125.5h7M545.5 122v7M542 126.5h7M545.5 123v7M542 135.5h7M545.5 132v7M543 117.5h7M546.5 114v7M543 121.5h7M546.5 118v7M543 122.5h7M546.5 119v7M543 123.5h7M546.5 120v7M543 131.5h7M546.5 128v7M543 142.5h7M546.5 139v7M544 118.5h7M547.5 115v7M544 119.5h7M547.5 116v7M544 120.5h7M547.5 117v7M544 121.5h7M547.5 118v7M544 122.5h7M547.5 119v7M544 123.5h7M547.5 120v7M545 120.5h7M548.5 117v7M545 121.5h7M548.5 118v7M545 123.5h7M548.5 120v7M545 125.5h7M548.5 122v7M545 126.5h7M548.5 123v7M545 127.5h7M548.5 124v7M545 131.5h7M548.5 128v7M546 120.5h7M549.5 117v7M546 121.5h7M549.5 118v7M546 123.5h7M549.5 120v7M546 124.5h7M549.5 121v7M546 126.5h7M549.5 123v7M546 132.5h7M549.5 129v7M547 122.5h7M550.5 119v7M547 123.5h7M550.5 120v7M547 124.5h7M550.5 121v7M547 125.5h7M550.5 122v7M547 126.5h7M550.5 123v7M548 118.5h7M551.5 115v7M548 119.5h7M551.5 116v7M548 122.5h7M551.5 119v7M548 123.5h7M551.5 120v7M548 124.5h7M551.5 121v7M548 135.5h7M551.5 132v7M548 145.5h7M551.5 142v7M549 119.5h7M552.5 116v7M549 120.5h7M552.5 117v7M549 121.5h7M552.5 118v7M549 124.5h7M552.5 121v7M549 128.5h7M552.5 125v7M549 129.5h7M552.5 126v7M549 135.5h7M552.5 132v7M550 121.5h7M553.5 118v7M550 123.5h7M553.5 120v7M550 124.5h7M553.5 121v7M550 125.5h7M553.5 122v7M550 131.5h7M553.5 128v7M551 117.5h7M554.5 114v7M551 122.5h7M554.5 119v7M551 124.5h7M554.5 121v7M551 127.5h7M554.5 124v7M551 129.5h7M554.5 126v7M552 119.5h7M555.5 116v7M552 122.5h7M555.5 119v7M552 123.5h7M555.5 120v7M552 124.5h7M555.5 121v7M552 126.5h7M555.5 123v7M552 143.5h7M555.5 140v7M553 113.5h7M556.5 110v7M553 119.5h7M556.5 116v7M553 120.5h7M556.5 117v7M553 121.5h7M556.5 118v7M553 123.5h7M556.5 120v7M553 125.5h7M556.5 122v7M554 119.5h7M557.5 116v7M554 120.5h7M557.5 117v7M554 123.5h7M557.5 120v7M554 124.5h7M557.5 121v7M554 127.5h7M557.5 124v7M554 128.5h7M557.5 125v7M554 138.5h7M557.5 135v7M555 120.5h7M558.5 117v7M555 122.5h7M558.5 119v7M555 124.5h7M558.5 121v7M555 125.5h7M558.5 122v7M555 126.5h7M558.5 123v7M556 119.5h7M559.5 116v7M556 120.5h7M559.5 117v7M556 121.5h7M559.5 118v7M556 122.5h7M559.5 119v7M556 123.5h7M559.5 120v7M556 128.5h7M559.5 125v7M557 121.5h7M560.5 118v7M557 126.5h7M560.5 123v7M557 128.5h7M560.5 125v7M557 138.5h7M560.5 135v7M557 141.5h7M560.5 138v7M557 240.5h7M560.5 237v7"/>
</g>
<g id="tx">
<text x="350.5" y="27" text-anchor="middle">QPS vs Time for qr1000.L5</text>
<text x="351" y="471.9" text-anchor="middle">Time(s)</text>
<text transform="translate(17,237.5) rotate(-90)" text-anchor="middle" letter-spacing="0.3">QPS</text>
<text x="545" y="61" text-anchor="end">ma120102<tspan class="sub" dy="4">r</tspan><tspan dy="-4">el</tspan><tspan class="sub" dy="4">w</tspan><tspan dy="-4">ithdbg.cz12b</tspan><tspan class="sub" dy="4">c</tspan><tspan dy="-4">32r128</tspan></text>
<text x="81.8" y="435.5" text-anchor="end">0</text><text x="81.8" y="379.5" text-anchor="end">2000</text><text x="81.8" y="324.5" text-anchor="end">4000</text><text x="81.8" y="268.5" text-anchor="end">6000</text><text x="81.8" y="213.5" text-anchor="end">8000</text><text x="81.8" y="157.5" text-anchor="end">10000</text><text x="81.8" y="102.5" text-anchor="end">12000</text><text x="92.9" y="450" text-anchor="middle">0</text><text x="157.9" y="450" text-anchor="middle">500</text><text x="222.9" y="450" text-anchor="middle">1000</text><text x="287.9" y="450" text-anchor="middle">1500</text><text x="353.9" y="450" text-anchor="middle">2000</text><text x="418.9" y="450" text-anchor="middle">2500</text><text x="483.9" y="450" text-anchor="middle">3000</text><text x="548.9" y="450" text-anchor="middle">3500</text><text x="613.9" y="450" text-anchor="middle">4000</text>
</g>
</svg>
</body></html>
